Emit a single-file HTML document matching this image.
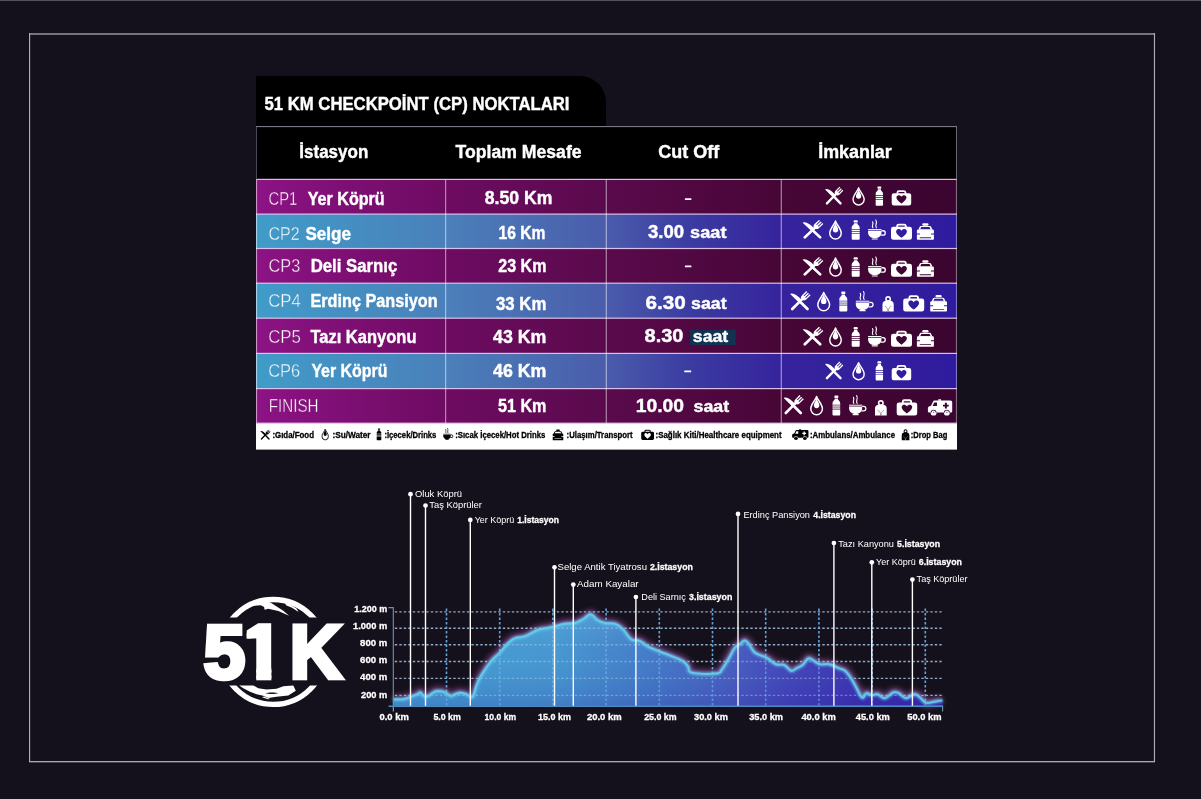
<!DOCTYPE html>
<html lang="tr"><head><meta charset="utf-8"><title>51 KM Checkpoint (CP) Noktaları</title>
<style>
html,body{margin:0;padding:0;background:#15111c;}
body{width:1201px;height:799px;overflow:hidden;font-family:"Liberation Sans", "DejaVu Sans", sans-serif;}
svg{display:block;font-family:"Liberation Sans", "DejaVu Sans", sans-serif;}
text{white-space:pre;}
</style></head><body>
<svg width="1201" height="799" viewBox="0 0 1201 799">
<defs>
<linearGradient id="gp" gradientUnits="userSpaceOnUse" x1="256" y1="0" x2="957" y2="0">
<stop offset="0" stop-color="#8c1384"/><stop offset="0.27" stop-color="#6e0b62"/><stop offset="0.5" stop-color="#5a0a4c"/><stop offset="0.75" stop-color="#470636"/><stop offset="1" stop-color="#3a0530"/>
</linearGradient>
<linearGradient id="gb" gradientUnits="userSpaceOnUse" x1="256" y1="0" x2="957" y2="0">
<stop offset="0" stop-color="#409cc8"/><stop offset="0.27" stop-color="#4a80ba"/><stop offset="0.5" stop-color="#4a5cab"/><stop offset="0.62" stop-color="#3b3ba2"/><stop offset="0.75" stop-color="#36239c"/><stop offset="1" stop-color="#2f1b9e"/>
</linearGradient>
<linearGradient id="ga" gradientUnits="userSpaceOnUse" x1="393" y1="0" x2="943" y2="0">
<stop offset="0" stop-color="#46a2d4"/><stop offset="0.3" stop-color="#4698d0"/><stop offset="0.48" stop-color="#4478c6"/><stop offset="0.6" stop-color="#4860c0"/><stop offset="0.72" stop-color="#4343b8"/><stop offset="0.85" stop-color="#3c2fb0"/><stop offset="1" stop-color="#3625a8"/>
</linearGradient>
<linearGradient id="gav" gradientUnits="userSpaceOnUse" x1="0" y1="612" x2="0" y2="706">
<stop offset="0" stop-color="#7ad8f4" stop-opacity="0.26"/><stop offset="0.5" stop-color="#5080d0" stop-opacity="0.05"/><stop offset="1" stop-color="#28209a" stop-opacity="0.22"/>
</linearGradient>
<filter id="glow" x="-5%" y="-20%" width="110%" height="140%"><feGaussianBlur stdDeviation="2.8"/></filter>
<filter id="glow2" x="-5%" y="-20%" width="110%" height="140%"><feGaussianBlur stdDeviation="1"/></filter>

</defs>
<rect x="0" y="0" width="1201" height="799" fill="#15111c"/>
<rect x="0" y="0" width="1201" height="1" fill="#56525e"/>
<rect x="29" y="33" width="1126" height="2" fill="#75717d"/>
<rect x="29" y="761" width="1126" height="1" fill="#a9a7b4"/><rect x="29" y="762" width="1126" height="1" fill="#494552"/>
<rect x="29" y="33" width="1.15" height="729" fill="#aeacb9"/>
<rect x="1153.9" y="33" width="1.15" height="729" fill="#aeacb9"/>
<path d="M256,76 H580 a26,26 0 0 1 26,26 V127 H256Z" fill="#000"/>
<text x="264.5" y="109.9" font-size="17.8" font-weight="bold" fill="#fff" text-anchor="start" textLength="305.0" lengthAdjust="spacingAndGlyphs" stroke="#fff" stroke-width="0.4">51 KM CHECKPOİNT (CP) NOKTALARI</text>
<rect x="256" y="126.5" width="701" height="53.4" fill="#000"/>
<rect x="256" y="179.4" width="701" height="35.0" fill="url(#gp)"/>
<rect x="256" y="214.1" width="701" height="34.7" fill="url(#gb)"/>
<rect x="256" y="248.5" width="701" height="35.0" fill="url(#gp)"/>
<rect x="256" y="283.2" width="701" height="35.3" fill="url(#gb)"/>
<rect x="256" y="318.2" width="701" height="35.5" fill="url(#gp)"/>
<rect x="256" y="353.4" width="701" height="35.5" fill="url(#gb)"/>
<rect x="256" y="388.6" width="701" height="34.9" fill="url(#gp)"/>
<rect x="256" y="423.2" width="701" height="26.4" fill="#fff"/>
<rect x="256" y="178.8" width="701" height="1.2" fill="#e6ccf2" fill-opacity="0.92"/>
<rect x="256" y="213.5" width="701" height="1.2" fill="#e6ccf2" fill-opacity="0.92"/>
<rect x="256" y="247.9" width="701" height="1.2" fill="#e6ccf2" fill-opacity="0.92"/>
<rect x="256" y="282.6" width="701" height="1.2" fill="#e6ccf2" fill-opacity="0.92"/>
<rect x="256" y="317.6" width="701" height="1.2" fill="#e6ccf2" fill-opacity="0.92"/>
<rect x="256" y="352.8" width="701" height="1.2" fill="#e6ccf2" fill-opacity="0.92"/>
<rect x="256" y="388.0" width="701" height="1.2" fill="#e6ccf2" fill-opacity="0.92"/>
<rect x="256" y="422.6" width="701" height="1.2" fill="#e6ccf2" fill-opacity="0.92"/>
<rect x="445.0" y="179.4" width="1.2" height="243.8" fill="#fff" fill-opacity="0.5"/>
<rect x="605.7" y="179.4" width="1.2" height="243.8" fill="#fff" fill-opacity="0.5"/>
<rect x="780.7" y="179.4" width="1.2" height="243.8" fill="#fff" fill-opacity="0.5"/>
<rect x="256" y="126.1" width="701" height="1" fill="#8a8692"/>
<rect x="256" y="127" width="1" height="52.4" fill="#4a4652"/>
<rect x="956" y="127" width="1" height="52.4" fill="#6a6672"/>
<rect x="256" y="179.4" width="1.1" height="243.8" fill="#fff" fill-opacity="0.55"/>
<rect x="955.9" y="179.4" width="1.1" height="243.8" fill="#fff" fill-opacity="0.4"/>
<text x="299.3" y="158.2" font-size="18" font-weight="bold" fill="#fff" text-anchor="start" textLength="69.0" lengthAdjust="spacingAndGlyphs" stroke="#fff" stroke-width="0.4">İstasyon</text>
<text x="455.6" y="158.2" font-size="18" font-weight="bold" fill="#fff" text-anchor="start" textLength="126.0" lengthAdjust="spacingAndGlyphs" stroke="#fff" stroke-width="0.4">Toplam Mesafe</text>
<text x="658.2" y="158.0" font-size="18" font-weight="bold" fill="#fff" text-anchor="start" textLength="61.0" lengthAdjust="spacingAndGlyphs" stroke="#fff" stroke-width="0.4">Cut Off</text>
<text x="818.2" y="158.0" font-size="18" font-weight="bold" fill="#fff" text-anchor="start" textLength="73.6" lengthAdjust="spacingAndGlyphs" stroke="#fff" stroke-width="0.4">İmkanlar</text>
<text x="268.5" y="205.3" font-size="18" font-weight="normal" fill="#fff" text-anchor="start" textLength="28.8" lengthAdjust="spacingAndGlyphs" stroke="url(#gp)" stroke-width="0.45">CP1</text>
<text x="307.7" y="205.3" font-size="18" font-weight="bold" fill="#fff" text-anchor="start" textLength="77.0" lengthAdjust="spacingAndGlyphs" stroke="#fff" stroke-width="0.4">Yer Köprü</text>
<text x="268.5" y="240.0" font-size="18" font-weight="normal" fill="#fff" text-anchor="start" textLength="31.2" lengthAdjust="spacingAndGlyphs" stroke="url(#gb)" stroke-width="0.45">CP2</text>
<text x="305.5" y="240.0" font-size="18" font-weight="bold" fill="#fff" text-anchor="start" textLength="45.5" lengthAdjust="spacingAndGlyphs" stroke="#fff" stroke-width="0.4">Selge</text>
<text x="268.5" y="271.8" font-size="18" font-weight="normal" fill="#fff" text-anchor="start" textLength="31.7" lengthAdjust="spacingAndGlyphs" stroke="url(#gp)" stroke-width="0.45">CP3</text>
<text x="310.7" y="271.8" font-size="18" font-weight="bold" fill="#fff" text-anchor="start" textLength="86.6" lengthAdjust="spacingAndGlyphs" stroke="#fff" stroke-width="0.4">Deli Sarnıç</text>
<text x="268.2" y="307.2" font-size="18" font-weight="normal" fill="#fff" text-anchor="start" textLength="32.6" lengthAdjust="spacingAndGlyphs" stroke="url(#gb)" stroke-width="0.45">CP4</text>
<text x="310.4" y="307.2" font-size="18" font-weight="bold" fill="#fff" text-anchor="start" textLength="127.2" lengthAdjust="spacingAndGlyphs" stroke="#fff" stroke-width="0.4">Erdinç Pansiyon</text>
<text x="268.2" y="342.7" font-size="18" font-weight="normal" fill="#fff" text-anchor="start" textLength="32.8" lengthAdjust="spacingAndGlyphs" stroke="url(#gp)" stroke-width="0.45">CP5</text>
<text x="310.4" y="342.7" font-size="18" font-weight="bold" fill="#fff" text-anchor="start" textLength="106.1" lengthAdjust="spacingAndGlyphs" stroke="#fff" stroke-width="0.4">Tazı Kanyonu</text>
<text x="268.2" y="377.0" font-size="18" font-weight="normal" fill="#fff" text-anchor="start" textLength="32.1" lengthAdjust="spacingAndGlyphs" stroke="url(#gb)" stroke-width="0.45">CP6</text>
<text x="311.4" y="377.0" font-size="18" font-weight="bold" fill="#fff" text-anchor="start" textLength="76.0" lengthAdjust="spacingAndGlyphs" stroke="#fff" stroke-width="0.4">Yer Köprü</text>
<text x="268.7" y="412.0" font-size="18" font-weight="normal" fill="#fff" text-anchor="start" textLength="49.8" lengthAdjust="spacingAndGlyphs" stroke="url(#gp)" stroke-width="0.45">FINISH</text>
<text x="484.8" y="204.4" font-size="18" font-weight="bold" fill="#fff" text-anchor="start" textLength="67.6" lengthAdjust="spacingAndGlyphs" stroke="#fff" stroke-width="0.4">8.50 Km</text>
<text x="498.6" y="239.3" font-size="18" font-weight="bold" fill="#fff" text-anchor="start" textLength="46.9" lengthAdjust="spacingAndGlyphs" stroke="#fff" stroke-width="0.4">16 Km</text>
<text x="498.3" y="271.7" font-size="18" font-weight="bold" fill="#fff" text-anchor="start" textLength="48.1" lengthAdjust="spacingAndGlyphs" stroke="#fff" stroke-width="0.4">23 Km</text>
<text x="496.0" y="309.5" font-size="18" font-weight="bold" fill="#fff" text-anchor="start" textLength="50.4" lengthAdjust="spacingAndGlyphs" stroke="#fff" stroke-width="0.4">33 Km</text>
<text x="493.0" y="342.8" font-size="18" font-weight="bold" fill="#fff" text-anchor="start" textLength="53.4" lengthAdjust="spacingAndGlyphs" stroke="#fff" stroke-width="0.4">43 Km</text>
<text x="493.0" y="377.0" font-size="18" font-weight="bold" fill="#fff" text-anchor="start" textLength="53.4" lengthAdjust="spacingAndGlyphs" stroke="#fff" stroke-width="0.4">46 Km</text>
<text x="498.0" y="411.6" font-size="18" font-weight="bold" fill="#fff" text-anchor="start" textLength="48.4" lengthAdjust="spacingAndGlyphs" stroke="#fff" stroke-width="0.4">51 Km</text>
<rect x="690" y="329.7" width="45.7" height="15.4" fill="#0f3350"/>
<rect x="684.9" y="198.3" width="6.5" height="1.8" rx="0.4" fill="#fff"/>
<rect x="684.9" y="265.5" width="6.5" height="1.8" rx="0.4" fill="#fff"/>
<rect x="684.2" y="370.5" width="7.0" height="1.8" rx="0.4" fill="#fff"/>
<text x="648.0" y="237.9" font-size="18" font-weight="bold" fill="#fff" text-anchor="start" textLength="36.1" lengthAdjust="spacingAndGlyphs" stroke="#fff" stroke-width="0.4">3.00</text>
<text x="690.1" y="237.9" font-size="17.2" font-weight="bold" fill="#fff" text-anchor="start" textLength="36.4" lengthAdjust="spacingAndGlyphs" stroke="#fff" stroke-width="0.4">saat</text>
<text x="645.4" y="308.8" font-size="18" font-weight="bold" fill="#fff" text-anchor="start" textLength="40.3" lengthAdjust="spacingAndGlyphs" stroke="#fff" stroke-width="0.4">6.30</text>
<text x="691.0" y="308.8" font-size="17.2" font-weight="bold" fill="#fff" text-anchor="start" textLength="35.6" lengthAdjust="spacingAndGlyphs" stroke="#fff" stroke-width="0.4">saat</text>
<text x="644.6" y="342.1" font-size="18" font-weight="bold" fill="#fff" text-anchor="start" textLength="38.9" lengthAdjust="spacingAndGlyphs" stroke="#fff" stroke-width="0.4">8.30</text>
<text x="692.8" y="342.1" font-size="17.2" font-weight="bold" fill="#fff" text-anchor="start" textLength="35.4" lengthAdjust="spacingAndGlyphs" stroke="#fff" stroke-width="0.4">saat</text>
<text x="635.8" y="411.6" font-size="18" font-weight="bold" fill="#fff" text-anchor="start" textLength="48.2" lengthAdjust="spacingAndGlyphs" stroke="#fff" stroke-width="0.4">10.00</text>
<text x="693.6" y="411.6" font-size="17.2" font-weight="bold" fill="#fff" text-anchor="start" textLength="35.6" lengthAdjust="spacingAndGlyphs" stroke="#fff" stroke-width="0.4">saat</text>
<svg x="824.7" y="187.3" width="18.0" height="18.4" viewBox="0 0 20 20" preserveAspectRatio="none" overflow="visible" fill="#fff"><g transform="rotate(-45 10 10)"> <path d="M8.7,-2.2 C11.8,-1.4 12.9,3.4 12.5,10 L11.4,10 L11.4,20.6 a1.35,1.35 0 0 1 -2.7,0 L8.7,-2.2Z"/> </g> <g transform="rotate(45 10 10)"> <path d="M7,-2 h1.35 v5.2 h0.95 v-5.2 h1.4 v5.2 h0.95 v-5.2 h1.35 V3.8 c0,2.1 -1.2,2.9 -1.8,3.2 L11.35,20.6 a1.35,1.35 0 0 1 -2.7,0 L8.65,7 C8.2,6.7 7,5.9 7,3.8Z"/> </g></svg>
<svg x="852.0" y="186.7" width="13.2" height="19.0" viewBox="0 0 14 20" preserveAspectRatio="none" overflow="visible" fill="#fff"><path d="M7,1.2 C6.2,4.4 1.1,9 1.1,13.3 a5.9,5.9 0 0 0 11.8,0 C12.9,9 7.8,4.4 7,1.2Z" fill="none" stroke="#fff" stroke-width="1.5" stroke-linejoin="round"/> <path d="M7,2.4 C6.6,5 4.2,7.7 4.2,9.9 a2.8,2.8 0 0 0 5.6,0 C9.8,7.7 7.4,5 7,2.4Z"/></svg>
<svg x="875.2" y="186.4" width="8.3" height="19.3" viewBox="0 0 9 20" preserveAspectRatio="none" overflow="visible" fill="#fff"><rect x="2.4" y="0" width="4.2" height="2.4" rx="0.9"/> <path d="M2.8,3 h3.4 v0.7 c0,1.1 2.3,1.6 2.3,3.8 V9.2 H0.5 V7.5 c0,-2.2 2.3,-2.7 2.3,-3.8Z"/> <rect x="0.5" y="9.9" width="8" height="1.3"/> <rect x="0.5" y="11.9" width="8" height="1.3"/> <path d="M0.5,13.9 h8 V19 a1,1 0 0 1 -1,1 h-6 a1,1 0 0 1 -1,-1Z"/></svg>
<svg x="891.7" y="190.1" width="19.5" height="15.4" viewBox="0 0 21 17" preserveAspectRatio="none" overflow="visible" fill="#fff"><path fill-rule="evenodd" d="M2.4,3.4 H18.6 a2.4,2.4 0 0 1 2.4,2.4 V14.6 a2.4,2.4 0 0 1 -2.4,2.4 H2.4 a2.4,2.4 0 0 1 -2.4,-2.4 V5.8 a2.4,2.4 0 0 1 2.4,-2.4Z M10.5,14.9 C5,11.1 4.6,8.4 5.5,6.9 c1,-1.7 3.7,-1.7 5,0.5 c1.3,-2.2 4,-2.2 5,-0.5 c0.9,1.5 0.5,4.2 -5,8Z"/> <path d="M6.2,4 V2.6 a1.5,1.5 0 0 1 1.5,-1.5 h5.6 a1.5,1.5 0 0 1 1.5,1.5 V4" fill="none" stroke="#fff" stroke-width="1.9"/></svg>
<svg x="802.2" y="220.5" width="20.5" height="19.3" viewBox="0 0 20 20" preserveAspectRatio="none" overflow="visible" fill="#fff"><g transform="rotate(-45 10 10)"> <path d="M8.7,-2.2 C11.8,-1.4 12.9,3.4 12.5,10 L11.4,10 L11.4,20.6 a1.35,1.35 0 0 1 -2.7,0 L8.7,-2.2Z"/> </g> <g transform="rotate(45 10 10)"> <path d="M7,-2 h1.35 v5.2 h0.95 v-5.2 h1.4 v5.2 h0.95 v-5.2 h1.35 V3.8 c0,2.1 -1.2,2.9 -1.8,3.2 L11.35,20.6 a1.35,1.35 0 0 1 -2.7,0 L8.65,7 C8.2,6.7 7,5.9 7,3.8Z"/> </g></svg>
<svg x="828.7" y="219.8" width="13.6" height="20.0" viewBox="0 0 14 20" preserveAspectRatio="none" overflow="visible" fill="#fff"><path d="M7,1.2 C6.2,4.4 1.1,9 1.1,13.3 a5.9,5.9 0 0 0 11.8,0 C12.9,9 7.8,4.4 7,1.2Z" fill="none" stroke="#fff" stroke-width="1.5" stroke-linejoin="round"/> <path d="M7,2.4 C6.6,5 4.2,7.7 4.2,9.9 a2.8,2.8 0 0 0 5.6,0 C9.8,7.7 7.4,5 7,2.4Z"/></svg>
<svg x="851.2" y="220.2" width="9.0" height="19.6" viewBox="0 0 9 20" preserveAspectRatio="none" overflow="visible" fill="#fff"><rect x="2.4" y="0" width="4.2" height="2.4" rx="0.9"/> <path d="M2.8,3 h3.4 v0.7 c0,1.1 2.3,1.6 2.3,3.8 V9.2 H0.5 V7.5 c0,-2.2 2.3,-2.7 2.3,-3.8Z"/> <rect x="0.5" y="9.9" width="8" height="1.3"/> <rect x="0.5" y="11.9" width="8" height="1.3"/> <path d="M0.5,13.9 h8 V19 a1,1 0 0 1 -1,1 h-6 a1,1 0 0 1 -1,-1Z"/></svg>
<svg x="867.7" y="219.0" width="18.7" height="20.8" viewBox="0 0 19 21" preserveAspectRatio="none" overflow="visible" fill="#fff"><path d="M0.4,10.2 H14 V11.2 H0.4Z"/> <path d="M0.4,11.9 H14 V13.4 c0,3.6 -2.6,6 -6.8,6 S0.4,17 0.4,13.4Z"/> <path d="M14,11.2 h1.6 a2.9,2.9 0 0 1 0,5.8 h-2.6 l0.5,-1.3 h2.1 a1.6,1.6 0 0 0 0,-3.2 h-1.6Z"/> <rect x="4" y="19.6" width="6.4" height="1.2" rx="0.5"/> <path d="M5.3,8.8 c-2,-2.2 1.4,-3.4 -0.4,-6 M8.8,8.8 c-2.2,-2.6 1.8,-4.6 -0.6,-7.8" fill="none" stroke="#fff" stroke-width="1.15" stroke-linecap="round"/></svg>
<svg x="891.0" y="223.6" width="21.0" height="16.2" viewBox="0 0 21 17" preserveAspectRatio="none" overflow="visible" fill="#fff"><path fill-rule="evenodd" d="M2.4,3.4 H18.6 a2.4,2.4 0 0 1 2.4,2.4 V14.6 a2.4,2.4 0 0 1 -2.4,2.4 H2.4 a2.4,2.4 0 0 1 -2.4,-2.4 V5.8 a2.4,2.4 0 0 1 2.4,-2.4Z M10.5,14.9 C5,11.1 4.6,8.4 5.5,6.9 c1,-1.7 3.7,-1.7 5,0.5 c1.3,-2.2 4,-2.2 5,-0.5 c0.9,1.5 0.5,4.2 -5,8Z"/> <path d="M6.2,4 V2.6 a1.5,1.5 0 0 1 1.5,-1.5 h5.6 a1.5,1.5 0 0 1 1.5,1.5 V4" fill="none" stroke="#fff" stroke-width="1.9"/></svg>
<svg x="916.7" y="223.2" width="17.4" height="16.6" viewBox="0 0 18 17" preserveAspectRatio="none" overflow="visible" fill="#fff"><rect x="5.8" y="0" width="6.4" height="2.5" rx="1.2"/> <path fill-rule="evenodd" d="M4.4,2.8 H13.6 c0.6,0 1,0.3 1.3,0.9 L16.3,6.8 H1.7 L3.1,3.7 c0.3,-0.6 0.7,-0.9 1.3,-0.9Z M4.7,4 L3.7,6.1 H14.3 L13.3,4Z"/> <path fill-rule="evenodd" d="M1.6,6.4 H16.4 a1.4,1.4 0 0 1 1.4,1.4 V16.2 a0.8,0.8 0 0 1 -0.8,0.8 H1 a0.8,0.8 0 0 1 -0.8,-0.8 V7.8 a1.4,1.4 0 0 1 1.4,-1.4Z M0.2,10.5 H3.3 V11.5 H0.2Z M14.7,10.5 H17.8 V11.5 H14.7Z M3.2,14.4 H14.8 V15.3 H3.2Z"/></svg>
<svg x="802.2" y="257.5" width="20.5" height="19.3" viewBox="0 0 20 20" preserveAspectRatio="none" overflow="visible" fill="#fff"><g transform="rotate(-45 10 10)"> <path d="M8.7,-2.2 C11.8,-1.4 12.9,3.4 12.5,10 L11.4,10 L11.4,20.6 a1.35,1.35 0 0 1 -2.7,0 L8.7,-2.2Z"/> </g> <g transform="rotate(45 10 10)"> <path d="M7,-2 h1.35 v5.2 h0.95 v-5.2 h1.4 v5.2 h0.95 v-5.2 h1.35 V3.8 c0,2.1 -1.2,2.9 -1.8,3.2 L11.35,20.6 a1.35,1.35 0 0 1 -2.7,0 L8.65,7 C8.2,6.7 7,5.9 7,3.8Z"/> </g></svg>
<svg x="828.7" y="256.8" width="13.6" height="20.0" viewBox="0 0 14 20" preserveAspectRatio="none" overflow="visible" fill="#fff"><path d="M7,1.2 C6.2,4.4 1.1,9 1.1,13.3 a5.9,5.9 0 0 0 11.8,0 C12.9,9 7.8,4.4 7,1.2Z" fill="none" stroke="#fff" stroke-width="1.5" stroke-linejoin="round"/> <path d="M7,2.4 C6.6,5 4.2,7.7 4.2,9.9 a2.8,2.8 0 0 0 5.6,0 C9.8,7.7 7.4,5 7,2.4Z"/></svg>
<svg x="851.2" y="257.2" width="9.0" height="19.6" viewBox="0 0 9 20" preserveAspectRatio="none" overflow="visible" fill="#fff"><rect x="2.4" y="0" width="4.2" height="2.4" rx="0.9"/> <path d="M2.8,3 h3.4 v0.7 c0,1.1 2.3,1.6 2.3,3.8 V9.2 H0.5 V7.5 c0,-2.2 2.3,-2.7 2.3,-3.8Z"/> <rect x="0.5" y="9.9" width="8" height="1.3"/> <rect x="0.5" y="11.9" width="8" height="1.3"/> <path d="M0.5,13.9 h8 V19 a1,1 0 0 1 -1,1 h-6 a1,1 0 0 1 -1,-1Z"/></svg>
<svg x="867.7" y="256.0" width="18.7" height="20.8" viewBox="0 0 19 21" preserveAspectRatio="none" overflow="visible" fill="#fff"><path d="M0.4,10.2 H14 V11.2 H0.4Z"/> <path d="M0.4,11.9 H14 V13.4 c0,3.6 -2.6,6 -6.8,6 S0.4,17 0.4,13.4Z"/> <path d="M14,11.2 h1.6 a2.9,2.9 0 0 1 0,5.8 h-2.6 l0.5,-1.3 h2.1 a1.6,1.6 0 0 0 0,-3.2 h-1.6Z"/> <rect x="4" y="19.6" width="6.4" height="1.2" rx="0.5"/> <path d="M5.3,8.8 c-2,-2.2 1.4,-3.4 -0.4,-6 M8.8,8.8 c-2.2,-2.6 1.8,-4.6 -0.6,-7.8" fill="none" stroke="#fff" stroke-width="1.15" stroke-linecap="round"/></svg>
<svg x="891.0" y="260.6" width="21.0" height="16.2" viewBox="0 0 21 17" preserveAspectRatio="none" overflow="visible" fill="#fff"><path fill-rule="evenodd" d="M2.4,3.4 H18.6 a2.4,2.4 0 0 1 2.4,2.4 V14.6 a2.4,2.4 0 0 1 -2.4,2.4 H2.4 a2.4,2.4 0 0 1 -2.4,-2.4 V5.8 a2.4,2.4 0 0 1 2.4,-2.4Z M10.5,14.9 C5,11.1 4.6,8.4 5.5,6.9 c1,-1.7 3.7,-1.7 5,0.5 c1.3,-2.2 4,-2.2 5,-0.5 c0.9,1.5 0.5,4.2 -5,8Z"/> <path d="M6.2,4 V2.6 a1.5,1.5 0 0 1 1.5,-1.5 h5.6 a1.5,1.5 0 0 1 1.5,1.5 V4" fill="none" stroke="#fff" stroke-width="1.9"/></svg>
<svg x="916.7" y="260.2" width="17.4" height="16.6" viewBox="0 0 18 17" preserveAspectRatio="none" overflow="visible" fill="#fff"><rect x="5.8" y="0" width="6.4" height="2.5" rx="1.2"/> <path fill-rule="evenodd" d="M4.4,2.8 H13.6 c0.6,0 1,0.3 1.3,0.9 L16.3,6.8 H1.7 L3.1,3.7 c0.3,-0.6 0.7,-0.9 1.3,-0.9Z M4.7,4 L3.7,6.1 H14.3 L13.3,4Z"/> <path fill-rule="evenodd" d="M1.6,6.4 H16.4 a1.4,1.4 0 0 1 1.4,1.4 V16.2 a0.8,0.8 0 0 1 -0.8,0.8 H1 a0.8,0.8 0 0 1 -0.8,-0.8 V7.8 a1.4,1.4 0 0 1 1.4,-1.4Z M0.2,10.5 H3.3 V11.5 H0.2Z M14.7,10.5 H17.8 V11.5 H14.7Z M3.2,14.4 H14.8 V15.3 H3.2Z"/></svg>
<svg x="789.7" y="291.7" width="20.3" height="19.8" viewBox="0 0 20 20" preserveAspectRatio="none" overflow="visible" fill="#fff"><g transform="rotate(-45 10 10)"> <path d="M8.7,-2.2 C11.8,-1.4 12.9,3.4 12.5,10 L11.4,10 L11.4,20.6 a1.35,1.35 0 0 1 -2.7,0 L8.7,-2.2Z"/> </g> <g transform="rotate(45 10 10)"> <path d="M7,-2 h1.35 v5.2 h0.95 v-5.2 h1.4 v5.2 h0.95 v-5.2 h1.35 V3.8 c0,2.1 -1.2,2.9 -1.8,3.2 L11.35,20.6 a1.35,1.35 0 0 1 -2.7,0 L8.65,7 C8.2,6.7 7,5.9 7,3.8Z"/> </g></svg>
<svg x="816.7" y="291.2" width="14.0" height="20.3" viewBox="0 0 14 20" preserveAspectRatio="none" overflow="visible" fill="#fff"><path d="M7,1.2 C6.2,4.4 1.1,9 1.1,13.3 a5.9,5.9 0 0 0 11.8,0 C12.9,9 7.8,4.4 7,1.2Z" fill="none" stroke="#fff" stroke-width="1.5" stroke-linejoin="round"/> <path d="M7,2.4 C6.6,5 4.2,7.7 4.2,9.9 a2.8,2.8 0 0 0 5.6,0 C9.8,7.7 7.4,5 7,2.4Z"/></svg>
<svg x="838.8" y="291.5" width="9.0" height="20.0" viewBox="0 0 9 20" preserveAspectRatio="none" overflow="visible" fill="#fff"><rect x="2.4" y="0" width="4.2" height="2.4" rx="0.9"/> <path d="M2.8,3 h3.4 v0.7 c0,1.1 2.3,1.6 2.3,3.8 V9.2 H0.5 V7.5 c0,-2.2 2.3,-2.7 2.3,-3.8Z"/> <rect x="0.5" y="9.9" width="8" height="1.3"/> <rect x="0.5" y="11.9" width="8" height="1.3"/> <path d="M0.5,13.9 h8 V19 a1,1 0 0 1 -1,1 h-6 a1,1 0 0 1 -1,-1Z"/></svg>
<svg x="855.4" y="290.5" width="18.8" height="21.0" viewBox="0 0 19 21" preserveAspectRatio="none" overflow="visible" fill="#fff"><path d="M0.4,10.2 H14 V11.2 H0.4Z"/> <path d="M0.4,11.9 H14 V13.4 c0,3.6 -2.6,6 -6.8,6 S0.4,17 0.4,13.4Z"/> <path d="M14,11.2 h1.6 a2.9,2.9 0 0 1 0,5.8 h-2.6 l0.5,-1.3 h2.1 a1.6,1.6 0 0 0 0,-3.2 h-1.6Z"/> <rect x="4" y="19.6" width="6.4" height="1.2" rx="0.5"/> <path d="M5.3,8.8 c-2,-2.2 1.4,-3.4 -0.4,-6 M8.8,8.8 c-2.2,-2.6 1.8,-4.6 -0.6,-7.8" fill="none" stroke="#fff" stroke-width="1.15" stroke-linecap="round"/></svg>
<svg x="882.0" y="296.2" width="12.2" height="15.3" viewBox="0 0 13 16" preserveAspectRatio="none" overflow="visible" fill="#fff"><circle cx="6.5" cy="3" r="2.3" fill="none" stroke="#fff" stroke-width="1.6"/> <path d="M0.5,16 V9.2 C0.5,5.8 2.4,4.6 6.5,4.6 S12.5,5.8 12.5,9.2 V16Z"/> <path d="M6.5,16 C6.3,13 5,11.2 3,10.4 M6.5,16 C6.7,13 8,11.2 10,10.4" fill="none" style="stroke:#3a1040" stroke-opacity="0.5" stroke-width="0.8"/></svg>
<svg x="903.2" y="295.1" width="21.0" height="16.4" viewBox="0 0 21 17" preserveAspectRatio="none" overflow="visible" fill="#fff"><path fill-rule="evenodd" d="M2.4,3.4 H18.6 a2.4,2.4 0 0 1 2.4,2.4 V14.6 a2.4,2.4 0 0 1 -2.4,2.4 H2.4 a2.4,2.4 0 0 1 -2.4,-2.4 V5.8 a2.4,2.4 0 0 1 2.4,-2.4Z M10.5,14.9 C5,11.1 4.6,8.4 5.5,6.9 c1,-1.7 3.7,-1.7 5,0.5 c1.3,-2.2 4,-2.2 5,-0.5 c0.9,1.5 0.5,4.2 -5,8Z"/> <path d="M6.2,4 V2.6 a1.5,1.5 0 0 1 1.5,-1.5 h5.6 a1.5,1.5 0 0 1 1.5,1.5 V4" fill="none" stroke="#fff" stroke-width="1.9"/></svg>
<svg x="930.0" y="294.9" width="17.2" height="16.6" viewBox="0 0 18 17" preserveAspectRatio="none" overflow="visible" fill="#fff"><rect x="5.8" y="0" width="6.4" height="2.5" rx="1.2"/> <path fill-rule="evenodd" d="M4.4,2.8 H13.6 c0.6,0 1,0.3 1.3,0.9 L16.3,6.8 H1.7 L3.1,3.7 c0.3,-0.6 0.7,-0.9 1.3,-0.9Z M4.7,4 L3.7,6.1 H14.3 L13.3,4Z"/> <path fill-rule="evenodd" d="M1.6,6.4 H16.4 a1.4,1.4 0 0 1 1.4,1.4 V16.2 a0.8,0.8 0 0 1 -0.8,0.8 H1 a0.8,0.8 0 0 1 -0.8,-0.8 V7.8 a1.4,1.4 0 0 1 1.4,-1.4Z M0.2,10.5 H3.3 V11.5 H0.2Z M14.7,10.5 H17.8 V11.5 H14.7Z M3.2,14.4 H14.8 V15.3 H3.2Z"/></svg>
<svg x="802.2" y="327.4" width="20.5" height="19.3" viewBox="0 0 20 20" preserveAspectRatio="none" overflow="visible" fill="#fff"><g transform="rotate(-45 10 10)"> <path d="M8.7,-2.2 C11.8,-1.4 12.9,3.4 12.5,10 L11.4,10 L11.4,20.6 a1.35,1.35 0 0 1 -2.7,0 L8.7,-2.2Z"/> </g> <g transform="rotate(45 10 10)"> <path d="M7,-2 h1.35 v5.2 h0.95 v-5.2 h1.4 v5.2 h0.95 v-5.2 h1.35 V3.8 c0,2.1 -1.2,2.9 -1.8,3.2 L11.35,20.6 a1.35,1.35 0 0 1 -2.7,0 L8.65,7 C8.2,6.7 7,5.9 7,3.8Z"/> </g></svg>
<svg x="828.7" y="326.7" width="13.6" height="20.0" viewBox="0 0 14 20" preserveAspectRatio="none" overflow="visible" fill="#fff"><path d="M7,1.2 C6.2,4.4 1.1,9 1.1,13.3 a5.9,5.9 0 0 0 11.8,0 C12.9,9 7.8,4.4 7,1.2Z" fill="none" stroke="#fff" stroke-width="1.5" stroke-linejoin="round"/> <path d="M7,2.4 C6.6,5 4.2,7.7 4.2,9.9 a2.8,2.8 0 0 0 5.6,0 C9.8,7.7 7.4,5 7,2.4Z"/></svg>
<svg x="851.2" y="327.1" width="9.0" height="19.6" viewBox="0 0 9 20" preserveAspectRatio="none" overflow="visible" fill="#fff"><rect x="2.4" y="0" width="4.2" height="2.4" rx="0.9"/> <path d="M2.8,3 h3.4 v0.7 c0,1.1 2.3,1.6 2.3,3.8 V9.2 H0.5 V7.5 c0,-2.2 2.3,-2.7 2.3,-3.8Z"/> <rect x="0.5" y="9.9" width="8" height="1.3"/> <rect x="0.5" y="11.9" width="8" height="1.3"/> <path d="M0.5,13.9 h8 V19 a1,1 0 0 1 -1,1 h-6 a1,1 0 0 1 -1,-1Z"/></svg>
<svg x="867.7" y="325.9" width="18.7" height="20.8" viewBox="0 0 19 21" preserveAspectRatio="none" overflow="visible" fill="#fff"><path d="M0.4,10.2 H14 V11.2 H0.4Z"/> <path d="M0.4,11.9 H14 V13.4 c0,3.6 -2.6,6 -6.8,6 S0.4,17 0.4,13.4Z"/> <path d="M14,11.2 h1.6 a2.9,2.9 0 0 1 0,5.8 h-2.6 l0.5,-1.3 h2.1 a1.6,1.6 0 0 0 0,-3.2 h-1.6Z"/> <rect x="4" y="19.6" width="6.4" height="1.2" rx="0.5"/> <path d="M5.3,8.8 c-2,-2.2 1.4,-3.4 -0.4,-6 M8.8,8.8 c-2.2,-2.6 1.8,-4.6 -0.6,-7.8" fill="none" stroke="#fff" stroke-width="1.15" stroke-linecap="round"/></svg>
<svg x="891.0" y="330.5" width="21.0" height="16.2" viewBox="0 0 21 17" preserveAspectRatio="none" overflow="visible" fill="#fff"><path fill-rule="evenodd" d="M2.4,3.4 H18.6 a2.4,2.4 0 0 1 2.4,2.4 V14.6 a2.4,2.4 0 0 1 -2.4,2.4 H2.4 a2.4,2.4 0 0 1 -2.4,-2.4 V5.8 a2.4,2.4 0 0 1 2.4,-2.4Z M10.5,14.9 C5,11.1 4.6,8.4 5.5,6.9 c1,-1.7 3.7,-1.7 5,0.5 c1.3,-2.2 4,-2.2 5,-0.5 c0.9,1.5 0.5,4.2 -5,8Z"/> <path d="M6.2,4 V2.6 a1.5,1.5 0 0 1 1.5,-1.5 h5.6 a1.5,1.5 0 0 1 1.5,1.5 V4" fill="none" stroke="#fff" stroke-width="1.9"/></svg>
<svg x="916.7" y="330.1" width="17.4" height="16.6" viewBox="0 0 18 17" preserveAspectRatio="none" overflow="visible" fill="#fff"><rect x="5.8" y="0" width="6.4" height="2.5" rx="1.2"/> <path fill-rule="evenodd" d="M4.4,2.8 H13.6 c0.6,0 1,0.3 1.3,0.9 L16.3,6.8 H1.7 L3.1,3.7 c0.3,-0.6 0.7,-0.9 1.3,-0.9Z M4.7,4 L3.7,6.1 H14.3 L13.3,4Z"/> <path fill-rule="evenodd" d="M1.6,6.4 H16.4 a1.4,1.4 0 0 1 1.4,1.4 V16.2 a0.8,0.8 0 0 1 -0.8,0.8 H1 a0.8,0.8 0 0 1 -0.8,-0.8 V7.8 a1.4,1.4 0 0 1 1.4,-1.4Z M0.2,10.5 H3.3 V11.5 H0.2Z M14.7,10.5 H17.8 V11.5 H14.7Z M3.2,14.4 H14.8 V15.3 H3.2Z"/></svg>
<svg x="824.7" y="362.1" width="18.0" height="18.4" viewBox="0 0 20 20" preserveAspectRatio="none" overflow="visible" fill="#fff"><g transform="rotate(-45 10 10)"> <path d="M8.7,-2.2 C11.8,-1.4 12.9,3.4 12.5,10 L11.4,10 L11.4,20.6 a1.35,1.35 0 0 1 -2.7,0 L8.7,-2.2Z"/> </g> <g transform="rotate(45 10 10)"> <path d="M7,-2 h1.35 v5.2 h0.95 v-5.2 h1.4 v5.2 h0.95 v-5.2 h1.35 V3.8 c0,2.1 -1.2,2.9 -1.8,3.2 L11.35,20.6 a1.35,1.35 0 0 1 -2.7,0 L8.65,7 C8.2,6.7 7,5.9 7,3.8Z"/> </g></svg>
<svg x="852.0" y="361.5" width="13.2" height="19.0" viewBox="0 0 14 20" preserveAspectRatio="none" overflow="visible" fill="#fff"><path d="M7,1.2 C6.2,4.4 1.1,9 1.1,13.3 a5.9,5.9 0 0 0 11.8,0 C12.9,9 7.8,4.4 7,1.2Z" fill="none" stroke="#fff" stroke-width="1.5" stroke-linejoin="round"/> <path d="M7,2.4 C6.6,5 4.2,7.7 4.2,9.9 a2.8,2.8 0 0 0 5.6,0 C9.8,7.7 7.4,5 7,2.4Z"/></svg>
<svg x="875.2" y="361.2" width="8.3" height="19.3" viewBox="0 0 9 20" preserveAspectRatio="none" overflow="visible" fill="#fff"><rect x="2.4" y="0" width="4.2" height="2.4" rx="0.9"/> <path d="M2.8,3 h3.4 v0.7 c0,1.1 2.3,1.6 2.3,3.8 V9.2 H0.5 V7.5 c0,-2.2 2.3,-2.7 2.3,-3.8Z"/> <rect x="0.5" y="9.9" width="8" height="1.3"/> <rect x="0.5" y="11.9" width="8" height="1.3"/> <path d="M0.5,13.9 h8 V19 a1,1 0 0 1 -1,1 h-6 a1,1 0 0 1 -1,-1Z"/></svg>
<svg x="891.7" y="364.9" width="19.5" height="15.4" viewBox="0 0 21 17" preserveAspectRatio="none" overflow="visible" fill="#fff"><path fill-rule="evenodd" d="M2.4,3.4 H18.6 a2.4,2.4 0 0 1 2.4,2.4 V14.6 a2.4,2.4 0 0 1 -2.4,2.4 H2.4 a2.4,2.4 0 0 1 -2.4,-2.4 V5.8 a2.4,2.4 0 0 1 2.4,-2.4Z M10.5,14.9 C5,11.1 4.6,8.4 5.5,6.9 c1,-1.7 3.7,-1.7 5,0.5 c1.3,-2.2 4,-2.2 5,-0.5 c0.9,1.5 0.5,4.2 -5,8Z"/> <path d="M6.2,4 V2.6 a1.5,1.5 0 0 1 1.5,-1.5 h5.6 a1.5,1.5 0 0 1 1.5,1.5 V4" fill="none" stroke="#fff" stroke-width="1.9"/></svg>
<svg x="783.3" y="395.7" width="19.9" height="19.8" viewBox="0 0 20 20" preserveAspectRatio="none" overflow="visible" fill="#fff"><g transform="rotate(-45 10 10)"> <path d="M8.7,-2.2 C11.8,-1.4 12.9,3.4 12.5,10 L11.4,10 L11.4,20.6 a1.35,1.35 0 0 1 -2.7,0 L8.7,-2.2Z"/> </g> <g transform="rotate(45 10 10)"> <path d="M7,-2 h1.35 v5.2 h0.95 v-5.2 h1.4 v5.2 h0.95 v-5.2 h1.35 V3.8 c0,2.1 -1.2,2.9 -1.8,3.2 L11.35,20.6 a1.35,1.35 0 0 1 -2.7,0 L8.65,7 C8.2,6.7 7,5.9 7,3.8Z"/> </g></svg>
<svg x="809.7" y="395.3" width="13.8" height="20.2" viewBox="0 0 14 20" preserveAspectRatio="none" overflow="visible" fill="#fff"><path d="M7,1.2 C6.2,4.4 1.1,9 1.1,13.3 a5.9,5.9 0 0 0 11.8,0 C12.9,9 7.8,4.4 7,1.2Z" fill="none" stroke="#fff" stroke-width="1.5" stroke-linejoin="round"/> <path d="M7,2.4 C6.6,5 4.2,7.7 4.2,9.9 a2.8,2.8 0 0 0 5.6,0 C9.8,7.7 7.4,5 7,2.4Z"/></svg>
<svg x="832.0" y="395.5" width="8.7" height="20.0" viewBox="0 0 9 20" preserveAspectRatio="none" overflow="visible" fill="#fff"><rect x="2.4" y="0" width="4.2" height="2.4" rx="0.9"/> <path d="M2.8,3 h3.4 v0.7 c0,1.1 2.3,1.6 2.3,3.8 V9.2 H0.5 V7.5 c0,-2.2 2.3,-2.7 2.3,-3.8Z"/> <rect x="0.5" y="9.9" width="8" height="1.3"/> <rect x="0.5" y="11.9" width="8" height="1.3"/> <path d="M0.5,13.9 h8 V19 a1,1 0 0 1 -1,1 h-6 a1,1 0 0 1 -1,-1Z"/></svg>
<svg x="848.7" y="394.5" width="18.3" height="21.0" viewBox="0 0 19 21" preserveAspectRatio="none" overflow="visible" fill="#fff"><path d="M0.4,10.2 H14 V11.2 H0.4Z"/> <path d="M0.4,11.9 H14 V13.4 c0,3.6 -2.6,6 -6.8,6 S0.4,17 0.4,13.4Z"/> <path d="M14,11.2 h1.6 a2.9,2.9 0 0 1 0,5.8 h-2.6 l0.5,-1.3 h2.1 a1.6,1.6 0 0 0 0,-3.2 h-1.6Z"/> <rect x="4" y="19.6" width="6.4" height="1.2" rx="0.5"/> <path d="M5.3,8.8 c-2,-2.2 1.4,-3.4 -0.4,-6 M8.8,8.8 c-2.2,-2.6 1.8,-4.6 -0.6,-7.8" fill="none" stroke="#fff" stroke-width="1.15" stroke-linecap="round"/></svg>
<svg x="874.5" y="400.2" width="12.7" height="15.3" viewBox="0 0 13 16" preserveAspectRatio="none" overflow="visible" fill="#fff"><circle cx="6.5" cy="3" r="2.3" fill="none" stroke="#fff" stroke-width="1.6"/> <path d="M0.5,16 V9.2 C0.5,5.8 2.4,4.6 6.5,4.6 S12.5,5.8 12.5,9.2 V16Z"/> <path d="M6.5,16 C6.3,13 5,11.2 3,10.4 M6.5,16 C6.7,13 8,11.2 10,10.4" fill="none" style="stroke:#3a1040" stroke-opacity="0.5" stroke-width="0.8"/></svg>
<svg x="896.7" y="399.2" width="20.5" height="16.3" viewBox="0 0 21 17" preserveAspectRatio="none" overflow="visible" fill="#fff"><path fill-rule="evenodd" d="M2.4,3.4 H18.6 a2.4,2.4 0 0 1 2.4,2.4 V14.6 a2.4,2.4 0 0 1 -2.4,2.4 H2.4 a2.4,2.4 0 0 1 -2.4,-2.4 V5.8 a2.4,2.4 0 0 1 2.4,-2.4Z M10.5,14.9 C5,11.1 4.6,8.4 5.5,6.9 c1,-1.7 3.7,-1.7 5,0.5 c1.3,-2.2 4,-2.2 5,-0.5 c0.9,1.5 0.5,4.2 -5,8Z"/> <path d="M6.2,4 V2.6 a1.5,1.5 0 0 1 1.5,-1.5 h5.6 a1.5,1.5 0 0 1 1.5,1.5 V4" fill="none" stroke="#fff" stroke-width="1.9"/></svg>
<svg x="927.7" y="400.2" width="24.7" height="15.8" viewBox="0 0 25 16" preserveAspectRatio="none" overflow="visible" fill="#fff"><rect x="10.6" y="-0.9" width="3" height="1.4" rx="0.4"/> <path fill-rule="evenodd" d="M7,0.4 H23 a1.8,1.8 0 0 1 1.8,1.8 V11.2 a1.2,1.2 0 0 1 -1.2,1.2 H1.4 a1.2,1.2 0 0 1 -1.2,-1.2 V8.4 c0,-1.2 0.7,-2 1.7,-2.3 L3.4,5.6 L5.3,1.5 C5.6,0.8 6.2,0.4 7,0.4Z M6.6,2.4 L5,5.9 H9.4 V2.4Z M17.4,2.6 h2 v1.9 h1.9 v2 h-1.9 v1.9 h-2 v-1.9 h-1.9 v-2 h1.9Z M6,9.6 a3,3 0 0 0 0,6 a3,3 0 0 0 0,-6Z M19.4,9.6 a3,3 0 0 0 0,6 a3,3 0 0 0 0,-6Z"/> <path fill-rule="evenodd" d="M6,10.5 a2.1,2.1 0 0 1 0,4.2 a2.1,2.1 0 0 1 0,-4.2Z M6,11.8 a0.8,0.8 0 0 0 0,1.6 a0.8,0.8 0 0 0 0,-1.6Z"/> <path fill-rule="evenodd" d="M19.4,10.5 a2.1,2.1 0 0 1 0,4.2 a2.1,2.1 0 0 1 0,-4.2Z M19.4,11.8 a0.8,0.8 0 0 0 0,1.6 a0.8,0.8 0 0 0 0,-1.6Z"/></svg>
<svg x="260.2" y="430.0" width="10.0" height="10.2" viewBox="0 0 20 20" preserveAspectRatio="none" overflow="visible" fill="#000"><g transform="rotate(-45 10 10)"> <path d="M8.7,-2.2 C11.8,-1.4 12.9,3.4 12.5,10 L11.4,10 L11.4,20.6 a1.35,1.35 0 0 1 -2.7,0 L8.7,-2.2Z"/> </g> <g transform="rotate(45 10 10)"> <path d="M7,-2 h1.35 v5.2 h0.95 v-5.2 h1.4 v5.2 h0.95 v-5.2 h1.35 V3.8 c0,2.1 -1.2,2.9 -1.8,3.2 L11.35,20.6 a1.35,1.35 0 0 1 -2.7,0 L8.65,7 C8.2,6.7 7,5.9 7,3.8Z"/> </g></svg>
<text x="272.4" y="438.2" font-size="8.2" font-weight="bold" fill="#000" text-anchor="start" textLength="41.6" lengthAdjust="spacingAndGlyphs" stroke="#000" stroke-width="0.28">:Gıda/Food</text>
<svg x="321.4" y="428.4" width="7.6" height="12.0" viewBox="0 0 14 20" preserveAspectRatio="none" overflow="visible" fill="#000"><path d="M7,1.2 C6.2,4.4 1.1,9 1.1,13.3 a5.9,5.9 0 0 0 11.8,0 C12.9,9 7.8,4.4 7,1.2Z" fill="none" stroke="#000" stroke-width="1.5" stroke-linejoin="round"/> <path d="M7,2.4 C6.6,5 4.2,7.7 4.2,9.9 a2.8,2.8 0 0 0 5.6,0 C9.8,7.7 7.4,5 7,2.4Z"/></svg>
<text x="332.4" y="438.2" font-size="8.2" font-weight="bold" fill="#000" text-anchor="start" textLength="38.2" lengthAdjust="spacingAndGlyphs" stroke="#000" stroke-width="0.28">:Su/Water</text>
<svg x="376.4" y="428.4" width="5.2" height="11.8" viewBox="0 0 9 20" preserveAspectRatio="none" overflow="visible" fill="#000"><rect x="2.4" y="0" width="4.2" height="2.4" rx="0.9"/> <path d="M2.8,3 h3.4 v0.7 c0,1.1 2.3,1.6 2.3,3.8 V9.2 H0.5 V7.5 c0,-2.2 2.3,-2.7 2.3,-3.8Z"/> <rect x="0.5" y="9.9" width="8" height="1.3"/> <rect x="0.5" y="11.9" width="8" height="1.3"/> <path d="M0.5,13.9 h8 V19 a1,1 0 0 1 -1,1 h-6 a1,1 0 0 1 -1,-1Z"/></svg>
<text x="384.4" y="438.2" font-size="8.2" font-weight="bold" fill="#000" text-anchor="start" textLength="52.0" lengthAdjust="spacingAndGlyphs" stroke="#000" stroke-width="0.28">:İçecek/Drinks</text>
<svg x="443.0" y="427.8" width="10.6" height="12.4" viewBox="0 0 19 21" preserveAspectRatio="none" overflow="visible" fill="#000"><path d="M0.4,10.2 H14 V11.2 H0.4Z"/> <path d="M0.4,11.9 H14 V13.4 c0,3.6 -2.6,6 -6.8,6 S0.4,17 0.4,13.4Z"/> <path d="M14,11.2 h1.6 a2.9,2.9 0 0 1 0,5.8 h-2.6 l0.5,-1.3 h2.1 a1.6,1.6 0 0 0 0,-3.2 h-1.6Z"/> <rect x="4" y="19.6" width="6.4" height="1.2" rx="0.5"/> <path d="M5.3,8.8 c-2,-2.2 1.4,-3.4 -0.4,-6 M8.8,8.8 c-2.2,-2.6 1.8,-4.6 -0.6,-7.8" fill="none" stroke="#000" stroke-width="1.15" stroke-linecap="round"/></svg>
<text x="455.2" y="438.2" font-size="8.2" font-weight="bold" fill="#000" text-anchor="start" textLength="90.2" lengthAdjust="spacingAndGlyphs" stroke="#000" stroke-width="0.28">:Sıcak İçecek/Hot Drinks</text>
<svg x="552.6" y="429.4" width="10.8" height="10.8" viewBox="0 0 18 17" preserveAspectRatio="none" overflow="visible" fill="#000"><rect x="5.8" y="0" width="6.4" height="2.5" rx="1.2"/> <path fill-rule="evenodd" d="M4.4,2.8 H13.6 c0.6,0 1,0.3 1.3,0.9 L16.3,6.8 H1.7 L3.1,3.7 c0.3,-0.6 0.7,-0.9 1.3,-0.9Z M4.7,4 L3.7,6.1 H14.3 L13.3,4Z"/> <path fill-rule="evenodd" d="M1.6,6.4 H16.4 a1.4,1.4 0 0 1 1.4,1.4 V16.2 a0.8,0.8 0 0 1 -0.8,0.8 H1 a0.8,0.8 0 0 1 -0.8,-0.8 V7.8 a1.4,1.4 0 0 1 1.4,-1.4Z M0.2,10.5 H3.3 V11.5 H0.2Z M14.7,10.5 H17.8 V11.5 H14.7Z M3.2,14.4 H14.8 V15.3 H3.2Z"/></svg>
<text x="566.6" y="438.2" font-size="8.2" font-weight="bold" fill="#000" text-anchor="start" textLength="66.0" lengthAdjust="spacingAndGlyphs" stroke="#000" stroke-width="0.28">:Ulaşım/Transport</text>
<svg x="641.2" y="429.6" width="12.8" height="10.4" viewBox="0 0 21 17" preserveAspectRatio="none" overflow="visible" fill="#000"><path fill-rule="evenodd" d="M2.4,3.4 H18.6 a2.4,2.4 0 0 1 2.4,2.4 V14.6 a2.4,2.4 0 0 1 -2.4,2.4 H2.4 a2.4,2.4 0 0 1 -2.4,-2.4 V5.8 a2.4,2.4 0 0 1 2.4,-2.4Z M10.5,14.9 C5,11.1 4.6,8.4 5.5,6.9 c1,-1.7 3.7,-1.7 5,0.5 c1.3,-2.2 4,-2.2 5,-0.5 c0.9,1.5 0.5,4.2 -5,8Z"/> <path d="M6.2,4 V2.6 a1.5,1.5 0 0 1 1.5,-1.5 h5.6 a1.5,1.5 0 0 1 1.5,1.5 V4" fill="none" stroke="#000" stroke-width="1.9"/></svg>
<text x="655.5" y="438.2" font-size="8.2" font-weight="bold" fill="#000" text-anchor="start" textLength="126.1" lengthAdjust="spacingAndGlyphs" stroke="#000" stroke-width="0.28">:Sağlık Kiti/Healthcare equipment</text>
<svg x="792.0" y="429.8" width="16.6" height="10.4" viewBox="0 0 25 16" preserveAspectRatio="none" overflow="visible" fill="#000"><rect x="10.6" y="-0.9" width="3" height="1.4" rx="0.4"/> <path fill-rule="evenodd" d="M7,0.4 H23 a1.8,1.8 0 0 1 1.8,1.8 V11.2 a1.2,1.2 0 0 1 -1.2,1.2 H1.4 a1.2,1.2 0 0 1 -1.2,-1.2 V8.4 c0,-1.2 0.7,-2 1.7,-2.3 L3.4,5.6 L5.3,1.5 C5.6,0.8 6.2,0.4 7,0.4Z M6.6,2.4 L5,5.9 H9.4 V2.4Z M17.4,2.6 h2 v1.9 h1.9 v2 h-1.9 v1.9 h-2 v-1.9 h-1.9 v-2 h1.9Z M6,9.6 a3,3 0 0 0 0,6 a3,3 0 0 0 0,-6Z M19.4,9.6 a3,3 0 0 0 0,6 a3,3 0 0 0 0,-6Z"/> <path fill-rule="evenodd" d="M6,10.5 a2.1,2.1 0 0 1 0,4.2 a2.1,2.1 0 0 1 0,-4.2Z M6,11.8 a0.8,0.8 0 0 0 0,1.6 a0.8,0.8 0 0 0 0,-1.6Z"/> <path fill-rule="evenodd" d="M19.4,10.5 a2.1,2.1 0 0 1 0,4.2 a2.1,2.1 0 0 1 0,-4.2Z M19.4,11.8 a0.8,0.8 0 0 0 0,1.6 a0.8,0.8 0 0 0 0,-1.6Z"/></svg>
<text x="810.0" y="438.2" font-size="8.2" font-weight="bold" fill="#000" text-anchor="start" textLength="85.0" lengthAdjust="spacingAndGlyphs" stroke="#000" stroke-width="0.28">:Ambulans/Ambulance</text>
<svg x="901.4" y="429.2" width="8.3" height="11.0" viewBox="0 0 13 16" preserveAspectRatio="none" overflow="visible" fill="#000"><circle cx="6.5" cy="3" r="2.3" fill="none" stroke="#000" stroke-width="1.6"/> <path d="M0.5,16 V9.2 C0.5,5.8 2.4,4.6 6.5,4.6 S12.5,5.8 12.5,9.2 V16Z"/> <path d="M6.5,16 C6.3,13 5,11.2 3,10.4 M6.5,16 C6.7,13 8,11.2 10,10.4" fill="none" style="stroke:#fff" stroke-opacity="0.5" stroke-width="0.8"/></svg>
<text x="910.8" y="438.2" font-size="8.2" font-weight="bold" fill="#000" text-anchor="start" textLength="36.5" lengthAdjust="spacingAndGlyphs" stroke="#000" stroke-width="0.28">:Drop Bag</text>
<path d="M393.5,699.2 C395.3,699.2 399.8,699.5 402.5,699.3 C405.2,699.1 405.0,698.8 407.0,698.2 C409.0,697.6 410.5,697.0 412.5,696.2 C414.5,695.4 415.4,695.0 417.0,694.2 C418.6,693.4 419.2,692.0 420.5,692.4 C421.8,692.8 422.3,695.2 423.7,696.0 C425.1,696.8 425.8,696.9 427.5,696.4 C429.2,695.9 430.3,694.4 432.0,693.4 C433.7,692.4 434.1,691.6 436.2,691.2 C438.3,690.8 440.3,690.9 442.5,691.4 C444.7,691.9 445.3,692.7 447.0,693.6 C448.7,694.5 449.5,695.8 451.2,695.9 C452.9,696.0 453.7,694.6 455.5,694.0 C457.3,693.4 458.1,692.9 460.0,692.8 C461.9,692.7 463.0,693.0 465.0,693.7 C467.0,694.4 468.4,695.7 470.0,696.2 C471.6,696.7 471.8,698.4 473.0,696.4 C474.2,694.4 474.8,690.0 476.2,686.2 C477.6,682.4 478.2,680.8 480.0,677.5 C481.8,674.2 483.0,672.5 485.0,669.5 C487.0,666.5 488.0,665.0 490.0,662.5 C492.0,660.0 493.0,659.0 495.0,657.0 C497.0,655.0 497.5,655.2 500.0,652.5 C502.5,649.8 504.5,646.6 507.5,643.7 C510.5,640.8 511.5,639.7 515.0,638.2 C518.5,636.7 520.5,637.8 525.0,636.2 C529.5,634.6 533.0,631.6 537.5,630.0 C542.0,628.4 544.0,628.8 547.5,628.0 C551.0,627.2 551.5,627.1 555.0,626.2 C558.5,625.3 561.0,624.3 565.0,623.7 C569.0,623.1 571.3,624.0 575.0,623.0 C578.7,622.0 580.6,620.5 583.7,618.7 C586.8,616.9 587.9,613.9 590.7,614.2 C593.5,614.5 594.6,618.2 597.5,620.0 C600.4,621.8 601.5,622.3 605.0,623.0 C608.5,623.7 611.5,622.6 615.0,623.7 C618.5,624.8 619.8,626.2 622.5,628.7 C625.2,631.2 626.5,634.1 628.5,636.4 C630.5,638.7 630.2,639.1 632.5,640.0 C634.8,640.9 636.6,639.5 639.8,640.8 C643.0,642.1 643.2,644.0 648.3,646.6 C653.4,649.2 658.5,650.9 665.3,653.7 C672.1,656.5 677.8,658.3 682.3,660.8 C686.8,663.3 686.0,664.0 688.0,666.4 C690.0,668.8 686.5,671.3 692.2,672.7 C697.9,674.1 710.4,674.2 716.3,673.5 C722.2,672.8 719.4,672.4 721.9,669.3 C724.4,666.2 726.4,662.3 729.0,658.0 C731.6,653.7 732.4,650.8 734.7,648.0 C737.0,645.2 738.3,645.3 740.3,643.8 C742.3,642.3 742.9,640.4 744.6,640.4 C746.3,640.4 746.8,641.4 748.8,643.8 C750.8,646.2 751.9,649.9 754.5,652.3 C757.1,654.7 759.1,654.6 761.6,655.7 C764.1,656.8 764.4,656.3 767.2,658.0 C770.0,659.7 772.3,662.8 775.7,664.2 C779.1,665.6 781.1,663.7 784.2,665.0 C787.3,666.3 788.7,670.1 791.3,670.7 C793.9,671.3 794.7,669.0 797.0,667.9 C799.3,666.8 800.3,666.9 802.6,665.0 C804.9,663.1 806.0,659.3 808.3,658.5 C810.6,657.7 811.6,659.7 813.9,660.8 C816.2,661.9 816.5,663.5 819.6,664.2 C822.7,664.9 825.8,663.5 829.5,664.2 C833.2,664.9 834.9,666.6 838.0,667.9 C841.1,669.2 842.6,668.7 845.1,670.7 C847.6,672.7 848.4,674.4 850.7,677.8 C853.0,681.2 854.1,683.7 856.4,687.7 C858.7,691.7 860.1,696.5 862.1,697.6 C864.1,698.7 864.3,693.8 866.3,693.3 C868.3,692.8 869.7,695.1 872.0,695.3 C874.3,695.5 875.1,693.6 877.6,694.2 C880.1,694.8 881.6,698.5 884.7,698.2 C887.8,697.9 890.4,693.5 893.2,692.5 C896.0,691.5 896.3,692.2 898.9,693.3 C901.5,694.4 902.9,698.0 906.0,698.2 C909.1,698.4 911.6,694.3 914.4,694.2 C917.2,694.1 917.8,695.9 920.1,697.6 C922.4,699.3 923.0,701.9 925.8,702.7 C928.6,703.5 931.0,702.3 934.3,701.8 C937.6,701.3 940.8,700.7 942.4,700.4" fill="none" stroke="#90489a" stroke-opacity="0.7" stroke-width="9" filter="url(#glow)"/>
<line x1="394.8" y1="611.9" x2="942.4" y2="611.9" stroke="#9ab6d2" stroke-opacity="0.92" stroke-width="1.4" stroke-dasharray="2.4 2.1"/>
<line x1="394.8" y1="628.3" x2="942.4" y2="628.3" stroke="#9ab6d2" stroke-opacity="0.92" stroke-width="1.4" stroke-dasharray="2.4 2.1"/>
<line x1="394.8" y1="644.8" x2="942.4" y2="644.8" stroke="#9ab6d2" stroke-opacity="0.92" stroke-width="1.4" stroke-dasharray="2.4 2.1"/>
<line x1="394.8" y1="661.5" x2="942.4" y2="661.5" stroke="#9ab6d2" stroke-opacity="0.92" stroke-width="1.4" stroke-dasharray="2.4 2.1"/>
<line x1="394.8" y1="678.4" x2="942.4" y2="678.4" stroke="#9ab6d2" stroke-opacity="0.92" stroke-width="1.4" stroke-dasharray="2.4 2.1"/>
<line x1="394.8" y1="695.4" x2="942.4" y2="695.4" stroke="#9ab6d2" stroke-opacity="0.92" stroke-width="1.4" stroke-dasharray="2.4 2.1"/>
<line x1="446.5" y1="608.6" x2="446.5" y2="705.8" stroke="#66aae4" stroke-opacity="0.95" stroke-width="1.6" stroke-dasharray="2.4 2.1"/>
<line x1="499.7" y1="608.6" x2="499.7" y2="705.8" stroke="#66aae4" stroke-opacity="0.95" stroke-width="1.6" stroke-dasharray="2.4 2.1"/>
<line x1="552.9" y1="608.6" x2="552.9" y2="705.8" stroke="#66aae4" stroke-opacity="0.95" stroke-width="1.6" stroke-dasharray="2.4 2.1"/>
<line x1="606.1" y1="608.6" x2="606.1" y2="705.8" stroke="#66aae4" stroke-opacity="0.95" stroke-width="1.6" stroke-dasharray="2.4 2.1"/>
<line x1="659.3" y1="608.6" x2="659.3" y2="705.8" stroke="#66aae4" stroke-opacity="0.95" stroke-width="1.6" stroke-dasharray="2.4 2.1"/>
<line x1="712.5" y1="608.6" x2="712.5" y2="705.8" stroke="#66aae4" stroke-opacity="0.95" stroke-width="1.6" stroke-dasharray="2.4 2.1"/>
<line x1="765.7" y1="608.6" x2="765.7" y2="705.8" stroke="#66aae4" stroke-opacity="0.95" stroke-width="1.6" stroke-dasharray="2.4 2.1"/>
<line x1="818.9" y1="608.6" x2="818.9" y2="705.8" stroke="#66aae4" stroke-opacity="0.95" stroke-width="1.6" stroke-dasharray="2.4 2.1"/>
<line x1="872.1" y1="608.6" x2="872.1" y2="705.8" stroke="#66aae4" stroke-opacity="0.95" stroke-width="1.6" stroke-dasharray="2.4 2.1"/>
<line x1="925.3" y1="608.6" x2="925.3" y2="705.8" stroke="#66aae4" stroke-opacity="0.95" stroke-width="1.6" stroke-dasharray="2.4 2.1"/>
<path d="M393.5,699.2 C395.3,699.2 399.8,699.5 402.5,699.3 C405.2,699.1 405.0,698.8 407.0,698.2 C409.0,697.6 410.5,697.0 412.5,696.2 C414.5,695.4 415.4,695.0 417.0,694.2 C418.6,693.4 419.2,692.0 420.5,692.4 C421.8,692.8 422.3,695.2 423.7,696.0 C425.1,696.8 425.8,696.9 427.5,696.4 C429.2,695.9 430.3,694.4 432.0,693.4 C433.7,692.4 434.1,691.6 436.2,691.2 C438.3,690.8 440.3,690.9 442.5,691.4 C444.7,691.9 445.3,692.7 447.0,693.6 C448.7,694.5 449.5,695.8 451.2,695.9 C452.9,696.0 453.7,694.6 455.5,694.0 C457.3,693.4 458.1,692.9 460.0,692.8 C461.9,692.7 463.0,693.0 465.0,693.7 C467.0,694.4 468.4,695.7 470.0,696.2 C471.6,696.7 471.8,698.4 473.0,696.4 C474.2,694.4 474.8,690.0 476.2,686.2 C477.6,682.4 478.2,680.8 480.0,677.5 C481.8,674.2 483.0,672.5 485.0,669.5 C487.0,666.5 488.0,665.0 490.0,662.5 C492.0,660.0 493.0,659.0 495.0,657.0 C497.0,655.0 497.5,655.2 500.0,652.5 C502.5,649.8 504.5,646.6 507.5,643.7 C510.5,640.8 511.5,639.7 515.0,638.2 C518.5,636.7 520.5,637.8 525.0,636.2 C529.5,634.6 533.0,631.6 537.5,630.0 C542.0,628.4 544.0,628.8 547.5,628.0 C551.0,627.2 551.5,627.1 555.0,626.2 C558.5,625.3 561.0,624.3 565.0,623.7 C569.0,623.1 571.3,624.0 575.0,623.0 C578.7,622.0 580.6,620.5 583.7,618.7 C586.8,616.9 587.9,613.9 590.7,614.2 C593.5,614.5 594.6,618.2 597.5,620.0 C600.4,621.8 601.5,622.3 605.0,623.0 C608.5,623.7 611.5,622.6 615.0,623.7 C618.5,624.8 619.8,626.2 622.5,628.7 C625.2,631.2 626.5,634.1 628.5,636.4 C630.5,638.7 630.2,639.1 632.5,640.0 C634.8,640.9 636.6,639.5 639.8,640.8 C643.0,642.1 643.2,644.0 648.3,646.6 C653.4,649.2 658.5,650.9 665.3,653.7 C672.1,656.5 677.8,658.3 682.3,660.8 C686.8,663.3 686.0,664.0 688.0,666.4 C690.0,668.8 686.5,671.3 692.2,672.7 C697.9,674.1 710.4,674.2 716.3,673.5 C722.2,672.8 719.4,672.4 721.9,669.3 C724.4,666.2 726.4,662.3 729.0,658.0 C731.6,653.7 732.4,650.8 734.7,648.0 C737.0,645.2 738.3,645.3 740.3,643.8 C742.3,642.3 742.9,640.4 744.6,640.4 C746.3,640.4 746.8,641.4 748.8,643.8 C750.8,646.2 751.9,649.9 754.5,652.3 C757.1,654.7 759.1,654.6 761.6,655.7 C764.1,656.8 764.4,656.3 767.2,658.0 C770.0,659.7 772.3,662.8 775.7,664.2 C779.1,665.6 781.1,663.7 784.2,665.0 C787.3,666.3 788.7,670.1 791.3,670.7 C793.9,671.3 794.7,669.0 797.0,667.9 C799.3,666.8 800.3,666.9 802.6,665.0 C804.9,663.1 806.0,659.3 808.3,658.5 C810.6,657.7 811.6,659.7 813.9,660.8 C816.2,661.9 816.5,663.5 819.6,664.2 C822.7,664.9 825.8,663.5 829.5,664.2 C833.2,664.9 834.9,666.6 838.0,667.9 C841.1,669.2 842.6,668.7 845.1,670.7 C847.6,672.7 848.4,674.4 850.7,677.8 C853.0,681.2 854.1,683.7 856.4,687.7 C858.7,691.7 860.1,696.5 862.1,697.6 C864.1,698.7 864.3,693.8 866.3,693.3 C868.3,692.8 869.7,695.1 872.0,695.3 C874.3,695.5 875.1,693.6 877.6,694.2 C880.1,694.8 881.6,698.5 884.7,698.2 C887.8,697.9 890.4,693.5 893.2,692.5 C896.0,691.5 896.3,692.2 898.9,693.3 C901.5,694.4 902.9,698.0 906.0,698.2 C909.1,698.4 911.6,694.3 914.4,694.2 C917.2,694.1 917.8,695.9 920.1,697.6 C922.4,699.3 923.0,701.9 925.8,702.7 C928.6,703.5 931.0,702.3 934.3,701.8 C937.6,701.3 940.8,700.7 942.4,700.4 L942.4,705.8 L393.5,705.8 Z" fill="url(#ga)"/>
<path d="M393.5,699.2 C395.3,699.2 399.8,699.5 402.5,699.3 C405.2,699.1 405.0,698.8 407.0,698.2 C409.0,697.6 410.5,697.0 412.5,696.2 C414.5,695.4 415.4,695.0 417.0,694.2 C418.6,693.4 419.2,692.0 420.5,692.4 C421.8,692.8 422.3,695.2 423.7,696.0 C425.1,696.8 425.8,696.9 427.5,696.4 C429.2,695.9 430.3,694.4 432.0,693.4 C433.7,692.4 434.1,691.6 436.2,691.2 C438.3,690.8 440.3,690.9 442.5,691.4 C444.7,691.9 445.3,692.7 447.0,693.6 C448.7,694.5 449.5,695.8 451.2,695.9 C452.9,696.0 453.7,694.6 455.5,694.0 C457.3,693.4 458.1,692.9 460.0,692.8 C461.9,692.7 463.0,693.0 465.0,693.7 C467.0,694.4 468.4,695.7 470.0,696.2 C471.6,696.7 471.8,698.4 473.0,696.4 C474.2,694.4 474.8,690.0 476.2,686.2 C477.6,682.4 478.2,680.8 480.0,677.5 C481.8,674.2 483.0,672.5 485.0,669.5 C487.0,666.5 488.0,665.0 490.0,662.5 C492.0,660.0 493.0,659.0 495.0,657.0 C497.0,655.0 497.5,655.2 500.0,652.5 C502.5,649.8 504.5,646.6 507.5,643.7 C510.5,640.8 511.5,639.7 515.0,638.2 C518.5,636.7 520.5,637.8 525.0,636.2 C529.5,634.6 533.0,631.6 537.5,630.0 C542.0,628.4 544.0,628.8 547.5,628.0 C551.0,627.2 551.5,627.1 555.0,626.2 C558.5,625.3 561.0,624.3 565.0,623.7 C569.0,623.1 571.3,624.0 575.0,623.0 C578.7,622.0 580.6,620.5 583.7,618.7 C586.8,616.9 587.9,613.9 590.7,614.2 C593.5,614.5 594.6,618.2 597.5,620.0 C600.4,621.8 601.5,622.3 605.0,623.0 C608.5,623.7 611.5,622.6 615.0,623.7 C618.5,624.8 619.8,626.2 622.5,628.7 C625.2,631.2 626.5,634.1 628.5,636.4 C630.5,638.7 630.2,639.1 632.5,640.0 C634.8,640.9 636.6,639.5 639.8,640.8 C643.0,642.1 643.2,644.0 648.3,646.6 C653.4,649.2 658.5,650.9 665.3,653.7 C672.1,656.5 677.8,658.3 682.3,660.8 C686.8,663.3 686.0,664.0 688.0,666.4 C690.0,668.8 686.5,671.3 692.2,672.7 C697.9,674.1 710.4,674.2 716.3,673.5 C722.2,672.8 719.4,672.4 721.9,669.3 C724.4,666.2 726.4,662.3 729.0,658.0 C731.6,653.7 732.4,650.8 734.7,648.0 C737.0,645.2 738.3,645.3 740.3,643.8 C742.3,642.3 742.9,640.4 744.6,640.4 C746.3,640.4 746.8,641.4 748.8,643.8 C750.8,646.2 751.9,649.9 754.5,652.3 C757.1,654.7 759.1,654.6 761.6,655.7 C764.1,656.8 764.4,656.3 767.2,658.0 C770.0,659.7 772.3,662.8 775.7,664.2 C779.1,665.6 781.1,663.7 784.2,665.0 C787.3,666.3 788.7,670.1 791.3,670.7 C793.9,671.3 794.7,669.0 797.0,667.9 C799.3,666.8 800.3,666.9 802.6,665.0 C804.9,663.1 806.0,659.3 808.3,658.5 C810.6,657.7 811.6,659.7 813.9,660.8 C816.2,661.9 816.5,663.5 819.6,664.2 C822.7,664.9 825.8,663.5 829.5,664.2 C833.2,664.9 834.9,666.6 838.0,667.9 C841.1,669.2 842.6,668.7 845.1,670.7 C847.6,672.7 848.4,674.4 850.7,677.8 C853.0,681.2 854.1,683.7 856.4,687.7 C858.7,691.7 860.1,696.5 862.1,697.6 C864.1,698.7 864.3,693.8 866.3,693.3 C868.3,692.8 869.7,695.1 872.0,695.3 C874.3,695.5 875.1,693.6 877.6,694.2 C880.1,694.8 881.6,698.5 884.7,698.2 C887.8,697.9 890.4,693.5 893.2,692.5 C896.0,691.5 896.3,692.2 898.9,693.3 C901.5,694.4 902.9,698.0 906.0,698.2 C909.1,698.4 911.6,694.3 914.4,694.2 C917.2,694.1 917.8,695.9 920.1,697.6 C922.4,699.3 923.0,701.9 925.8,702.7 C928.6,703.5 931.0,702.3 934.3,701.8 C937.6,701.3 940.8,700.7 942.4,700.4 L942.4,705.8 L393.5,705.8 Z" fill="url(#gav)"/>
<clipPath id="carea"><path d="M393.5,699.2 C395.3,699.2 399.8,699.5 402.5,699.3 C405.2,699.1 405.0,698.8 407.0,698.2 C409.0,697.6 410.5,697.0 412.5,696.2 C414.5,695.4 415.4,695.0 417.0,694.2 C418.6,693.4 419.2,692.0 420.5,692.4 C421.8,692.8 422.3,695.2 423.7,696.0 C425.1,696.8 425.8,696.9 427.5,696.4 C429.2,695.9 430.3,694.4 432.0,693.4 C433.7,692.4 434.1,691.6 436.2,691.2 C438.3,690.8 440.3,690.9 442.5,691.4 C444.7,691.9 445.3,692.7 447.0,693.6 C448.7,694.5 449.5,695.8 451.2,695.9 C452.9,696.0 453.7,694.6 455.5,694.0 C457.3,693.4 458.1,692.9 460.0,692.8 C461.9,692.7 463.0,693.0 465.0,693.7 C467.0,694.4 468.4,695.7 470.0,696.2 C471.6,696.7 471.8,698.4 473.0,696.4 C474.2,694.4 474.8,690.0 476.2,686.2 C477.6,682.4 478.2,680.8 480.0,677.5 C481.8,674.2 483.0,672.5 485.0,669.5 C487.0,666.5 488.0,665.0 490.0,662.5 C492.0,660.0 493.0,659.0 495.0,657.0 C497.0,655.0 497.5,655.2 500.0,652.5 C502.5,649.8 504.5,646.6 507.5,643.7 C510.5,640.8 511.5,639.7 515.0,638.2 C518.5,636.7 520.5,637.8 525.0,636.2 C529.5,634.6 533.0,631.6 537.5,630.0 C542.0,628.4 544.0,628.8 547.5,628.0 C551.0,627.2 551.5,627.1 555.0,626.2 C558.5,625.3 561.0,624.3 565.0,623.7 C569.0,623.1 571.3,624.0 575.0,623.0 C578.7,622.0 580.6,620.5 583.7,618.7 C586.8,616.9 587.9,613.9 590.7,614.2 C593.5,614.5 594.6,618.2 597.5,620.0 C600.4,621.8 601.5,622.3 605.0,623.0 C608.5,623.7 611.5,622.6 615.0,623.7 C618.5,624.8 619.8,626.2 622.5,628.7 C625.2,631.2 626.5,634.1 628.5,636.4 C630.5,638.7 630.2,639.1 632.5,640.0 C634.8,640.9 636.6,639.5 639.8,640.8 C643.0,642.1 643.2,644.0 648.3,646.6 C653.4,649.2 658.5,650.9 665.3,653.7 C672.1,656.5 677.8,658.3 682.3,660.8 C686.8,663.3 686.0,664.0 688.0,666.4 C690.0,668.8 686.5,671.3 692.2,672.7 C697.9,674.1 710.4,674.2 716.3,673.5 C722.2,672.8 719.4,672.4 721.9,669.3 C724.4,666.2 726.4,662.3 729.0,658.0 C731.6,653.7 732.4,650.8 734.7,648.0 C737.0,645.2 738.3,645.3 740.3,643.8 C742.3,642.3 742.9,640.4 744.6,640.4 C746.3,640.4 746.8,641.4 748.8,643.8 C750.8,646.2 751.9,649.9 754.5,652.3 C757.1,654.7 759.1,654.6 761.6,655.7 C764.1,656.8 764.4,656.3 767.2,658.0 C770.0,659.7 772.3,662.8 775.7,664.2 C779.1,665.6 781.1,663.7 784.2,665.0 C787.3,666.3 788.7,670.1 791.3,670.7 C793.9,671.3 794.7,669.0 797.0,667.9 C799.3,666.8 800.3,666.9 802.6,665.0 C804.9,663.1 806.0,659.3 808.3,658.5 C810.6,657.7 811.6,659.7 813.9,660.8 C816.2,661.9 816.5,663.5 819.6,664.2 C822.7,664.9 825.8,663.5 829.5,664.2 C833.2,664.9 834.9,666.6 838.0,667.9 C841.1,669.2 842.6,668.7 845.1,670.7 C847.6,672.7 848.4,674.4 850.7,677.8 C853.0,681.2 854.1,683.7 856.4,687.7 C858.7,691.7 860.1,696.5 862.1,697.6 C864.1,698.7 864.3,693.8 866.3,693.3 C868.3,692.8 869.7,695.1 872.0,695.3 C874.3,695.5 875.1,693.6 877.6,694.2 C880.1,694.8 881.6,698.5 884.7,698.2 C887.8,697.9 890.4,693.5 893.2,692.5 C896.0,691.5 896.3,692.2 898.9,693.3 C901.5,694.4 902.9,698.0 906.0,698.2 C909.1,698.4 911.6,694.3 914.4,694.2 C917.2,694.1 917.8,695.9 920.1,697.6 C922.4,699.3 923.0,701.9 925.8,702.7 C928.6,703.5 931.0,702.3 934.3,701.8 C937.6,701.3 940.8,700.7 942.4,700.4 L942.4,705.8 L393.5,705.8 Z"/></clipPath>
<g clip-path="url(#carea)">
<line x1="394.8" y1="611.9" x2="942.4" y2="611.9" stroke="#b4dcf2" stroke-opacity="0.42" stroke-width="1.4" stroke-dasharray="2.4 2.1"/>
<line x1="394.8" y1="628.3" x2="942.4" y2="628.3" stroke="#b4dcf2" stroke-opacity="0.42" stroke-width="1.4" stroke-dasharray="2.4 2.1"/>
<line x1="394.8" y1="644.8" x2="942.4" y2="644.8" stroke="#b4dcf2" stroke-opacity="0.42" stroke-width="1.4" stroke-dasharray="2.4 2.1"/>
<line x1="394.8" y1="661.5" x2="942.4" y2="661.5" stroke="#b4dcf2" stroke-opacity="0.42" stroke-width="1.4" stroke-dasharray="2.4 2.1"/>
<line x1="394.8" y1="678.4" x2="942.4" y2="678.4" stroke="#b4dcf2" stroke-opacity="0.42" stroke-width="1.4" stroke-dasharray="2.4 2.1"/>
<line x1="394.8" y1="695.4" x2="942.4" y2="695.4" stroke="#b4dcf2" stroke-opacity="0.42" stroke-width="1.4" stroke-dasharray="2.4 2.1"/>
<line x1="446.5" y1="608.6" x2="446.5" y2="705.8" stroke="#7cc0ee" stroke-opacity="0.55" stroke-width="1.6" stroke-dasharray="2.4 2.1"/>
<line x1="499.7" y1="608.6" x2="499.7" y2="705.8" stroke="#7cc0ee" stroke-opacity="0.55" stroke-width="1.6" stroke-dasharray="2.4 2.1"/>
<line x1="552.9" y1="608.6" x2="552.9" y2="705.8" stroke="#7cc0ee" stroke-opacity="0.55" stroke-width="1.6" stroke-dasharray="2.4 2.1"/>
<line x1="606.1" y1="608.6" x2="606.1" y2="705.8" stroke="#7cc0ee" stroke-opacity="0.55" stroke-width="1.6" stroke-dasharray="2.4 2.1"/>
<line x1="659.3" y1="608.6" x2="659.3" y2="705.8" stroke="#7cc0ee" stroke-opacity="0.55" stroke-width="1.6" stroke-dasharray="2.4 2.1"/>
<line x1="712.5" y1="608.6" x2="712.5" y2="705.8" stroke="#7cc0ee" stroke-opacity="0.55" stroke-width="1.6" stroke-dasharray="2.4 2.1"/>
<line x1="765.7" y1="608.6" x2="765.7" y2="705.8" stroke="#7cc0ee" stroke-opacity="0.55" stroke-width="1.6" stroke-dasharray="2.4 2.1"/>
<line x1="818.9" y1="608.6" x2="818.9" y2="705.8" stroke="#7cc0ee" stroke-opacity="0.55" stroke-width="1.6" stroke-dasharray="2.4 2.1"/>
<line x1="872.1" y1="608.6" x2="872.1" y2="705.8" stroke="#7cc0ee" stroke-opacity="0.55" stroke-width="1.6" stroke-dasharray="2.4 2.1"/>
<line x1="925.3" y1="608.6" x2="925.3" y2="705.8" stroke="#7cc0ee" stroke-opacity="0.55" stroke-width="1.6" stroke-dasharray="2.4 2.1"/>
</g>
<path d="M393.5,699.2 C395.3,699.2 399.8,699.5 402.5,699.3 C405.2,699.1 405.0,698.8 407.0,698.2 C409.0,697.6 410.5,697.0 412.5,696.2 C414.5,695.4 415.4,695.0 417.0,694.2 C418.6,693.4 419.2,692.0 420.5,692.4 C421.8,692.8 422.3,695.2 423.7,696.0 C425.1,696.8 425.8,696.9 427.5,696.4 C429.2,695.9 430.3,694.4 432.0,693.4 C433.7,692.4 434.1,691.6 436.2,691.2 C438.3,690.8 440.3,690.9 442.5,691.4 C444.7,691.9 445.3,692.7 447.0,693.6 C448.7,694.5 449.5,695.8 451.2,695.9 C452.9,696.0 453.7,694.6 455.5,694.0 C457.3,693.4 458.1,692.9 460.0,692.8 C461.9,692.7 463.0,693.0 465.0,693.7 C467.0,694.4 468.4,695.7 470.0,696.2 C471.6,696.7 471.8,698.4 473.0,696.4 C474.2,694.4 474.8,690.0 476.2,686.2 C477.6,682.4 478.2,680.8 480.0,677.5 C481.8,674.2 483.0,672.5 485.0,669.5 C487.0,666.5 488.0,665.0 490.0,662.5 C492.0,660.0 493.0,659.0 495.0,657.0 C497.0,655.0 497.5,655.2 500.0,652.5 C502.5,649.8 504.5,646.6 507.5,643.7 C510.5,640.8 511.5,639.7 515.0,638.2 C518.5,636.7 520.5,637.8 525.0,636.2 C529.5,634.6 533.0,631.6 537.5,630.0 C542.0,628.4 544.0,628.8 547.5,628.0 C551.0,627.2 551.5,627.1 555.0,626.2 C558.5,625.3 561.0,624.3 565.0,623.7 C569.0,623.1 571.3,624.0 575.0,623.0 C578.7,622.0 580.6,620.5 583.7,618.7 C586.8,616.9 587.9,613.9 590.7,614.2 C593.5,614.5 594.6,618.2 597.5,620.0 C600.4,621.8 601.5,622.3 605.0,623.0 C608.5,623.7 611.5,622.6 615.0,623.7 C618.5,624.8 619.8,626.2 622.5,628.7 C625.2,631.2 626.5,634.1 628.5,636.4 C630.5,638.7 630.2,639.1 632.5,640.0 C634.8,640.9 636.6,639.5 639.8,640.8 C643.0,642.1 643.2,644.0 648.3,646.6 C653.4,649.2 658.5,650.9 665.3,653.7 C672.1,656.5 677.8,658.3 682.3,660.8 C686.8,663.3 686.0,664.0 688.0,666.4 C690.0,668.8 686.5,671.3 692.2,672.7 C697.9,674.1 710.4,674.2 716.3,673.5 C722.2,672.8 719.4,672.4 721.9,669.3 C724.4,666.2 726.4,662.3 729.0,658.0 C731.6,653.7 732.4,650.8 734.7,648.0 C737.0,645.2 738.3,645.3 740.3,643.8 C742.3,642.3 742.9,640.4 744.6,640.4 C746.3,640.4 746.8,641.4 748.8,643.8 C750.8,646.2 751.9,649.9 754.5,652.3 C757.1,654.7 759.1,654.6 761.6,655.7 C764.1,656.8 764.4,656.3 767.2,658.0 C770.0,659.7 772.3,662.8 775.7,664.2 C779.1,665.6 781.1,663.7 784.2,665.0 C787.3,666.3 788.7,670.1 791.3,670.7 C793.9,671.3 794.7,669.0 797.0,667.9 C799.3,666.8 800.3,666.9 802.6,665.0 C804.9,663.1 806.0,659.3 808.3,658.5 C810.6,657.7 811.6,659.7 813.9,660.8 C816.2,661.9 816.5,663.5 819.6,664.2 C822.7,664.9 825.8,663.5 829.5,664.2 C833.2,664.9 834.9,666.6 838.0,667.9 C841.1,669.2 842.6,668.7 845.1,670.7 C847.6,672.7 848.4,674.4 850.7,677.8 C853.0,681.2 854.1,683.7 856.4,687.7 C858.7,691.7 860.1,696.5 862.1,697.6 C864.1,698.7 864.3,693.8 866.3,693.3 C868.3,692.8 869.7,695.1 872.0,695.3 C874.3,695.5 875.1,693.6 877.6,694.2 C880.1,694.8 881.6,698.5 884.7,698.2 C887.8,697.9 890.4,693.5 893.2,692.5 C896.0,691.5 896.3,692.2 898.9,693.3 C901.5,694.4 902.9,698.0 906.0,698.2 C909.1,698.4 911.6,694.3 914.4,694.2 C917.2,694.1 917.8,695.9 920.1,697.6 C922.4,699.3 923.0,701.9 925.8,702.7 C928.6,703.5 931.0,702.3 934.3,701.8 C937.6,701.3 940.8,700.7 942.4,700.4" fill="none" stroke="#58c8ee" stroke-width="4" stroke-opacity="0.75" filter="url(#glow2)"/>
<path d="M393.5,699.2 C395.3,699.2 399.8,699.5 402.5,699.3 C405.2,699.1 405.0,698.8 407.0,698.2 C409.0,697.6 410.5,697.0 412.5,696.2 C414.5,695.4 415.4,695.0 417.0,694.2 C418.6,693.4 419.2,692.0 420.5,692.4 C421.8,692.8 422.3,695.2 423.7,696.0 C425.1,696.8 425.8,696.9 427.5,696.4 C429.2,695.9 430.3,694.4 432.0,693.4 C433.7,692.4 434.1,691.6 436.2,691.2 C438.3,690.8 440.3,690.9 442.5,691.4 C444.7,691.9 445.3,692.7 447.0,693.6 C448.7,694.5 449.5,695.8 451.2,695.9 C452.9,696.0 453.7,694.6 455.5,694.0 C457.3,693.4 458.1,692.9 460.0,692.8 C461.9,692.7 463.0,693.0 465.0,693.7 C467.0,694.4 468.4,695.7 470.0,696.2 C471.6,696.7 471.8,698.4 473.0,696.4 C474.2,694.4 474.8,690.0 476.2,686.2 C477.6,682.4 478.2,680.8 480.0,677.5 C481.8,674.2 483.0,672.5 485.0,669.5 C487.0,666.5 488.0,665.0 490.0,662.5 C492.0,660.0 493.0,659.0 495.0,657.0 C497.0,655.0 497.5,655.2 500.0,652.5 C502.5,649.8 504.5,646.6 507.5,643.7 C510.5,640.8 511.5,639.7 515.0,638.2 C518.5,636.7 520.5,637.8 525.0,636.2 C529.5,634.6 533.0,631.6 537.5,630.0 C542.0,628.4 544.0,628.8 547.5,628.0 C551.0,627.2 551.5,627.1 555.0,626.2 C558.5,625.3 561.0,624.3 565.0,623.7 C569.0,623.1 571.3,624.0 575.0,623.0 C578.7,622.0 580.6,620.5 583.7,618.7 C586.8,616.9 587.9,613.9 590.7,614.2 C593.5,614.5 594.6,618.2 597.5,620.0 C600.4,621.8 601.5,622.3 605.0,623.0 C608.5,623.7 611.5,622.6 615.0,623.7 C618.5,624.8 619.8,626.2 622.5,628.7 C625.2,631.2 626.5,634.1 628.5,636.4 C630.5,638.7 630.2,639.1 632.5,640.0 C634.8,640.9 636.6,639.5 639.8,640.8 C643.0,642.1 643.2,644.0 648.3,646.6 C653.4,649.2 658.5,650.9 665.3,653.7 C672.1,656.5 677.8,658.3 682.3,660.8 C686.8,663.3 686.0,664.0 688.0,666.4 C690.0,668.8 686.5,671.3 692.2,672.7 C697.9,674.1 710.4,674.2 716.3,673.5 C722.2,672.8 719.4,672.4 721.9,669.3 C724.4,666.2 726.4,662.3 729.0,658.0 C731.6,653.7 732.4,650.8 734.7,648.0 C737.0,645.2 738.3,645.3 740.3,643.8 C742.3,642.3 742.9,640.4 744.6,640.4 C746.3,640.4 746.8,641.4 748.8,643.8 C750.8,646.2 751.9,649.9 754.5,652.3 C757.1,654.7 759.1,654.6 761.6,655.7 C764.1,656.8 764.4,656.3 767.2,658.0 C770.0,659.7 772.3,662.8 775.7,664.2 C779.1,665.6 781.1,663.7 784.2,665.0 C787.3,666.3 788.7,670.1 791.3,670.7 C793.9,671.3 794.7,669.0 797.0,667.9 C799.3,666.8 800.3,666.9 802.6,665.0 C804.9,663.1 806.0,659.3 808.3,658.5 C810.6,657.7 811.6,659.7 813.9,660.8 C816.2,661.9 816.5,663.5 819.6,664.2 C822.7,664.9 825.8,663.5 829.5,664.2 C833.2,664.9 834.9,666.6 838.0,667.9 C841.1,669.2 842.6,668.7 845.1,670.7 C847.6,672.7 848.4,674.4 850.7,677.8 C853.0,681.2 854.1,683.7 856.4,687.7 C858.7,691.7 860.1,696.5 862.1,697.6 C864.1,698.7 864.3,693.8 866.3,693.3 C868.3,692.8 869.7,695.1 872.0,695.3 C874.3,695.5 875.1,693.6 877.6,694.2 C880.1,694.8 881.6,698.5 884.7,698.2 C887.8,697.9 890.4,693.5 893.2,692.5 C896.0,691.5 896.3,692.2 898.9,693.3 C901.5,694.4 902.9,698.0 906.0,698.2 C909.1,698.4 911.6,694.3 914.4,694.2 C917.2,694.1 917.8,695.9 920.1,697.6 C922.4,699.3 923.0,701.9 925.8,702.7 C928.6,703.5 931.0,702.3 934.3,701.8 C937.6,701.3 940.8,700.7 942.4,700.4" fill="none" stroke="#6ccae8" stroke-width="1.9" stroke-opacity="0.9" stroke-linejoin="round"/>
<path d="M388.4,607.6 H393.3 V706.1999999999999 H942.6 V711.6" fill="none" stroke="#6399ae" stroke-width="1.1"/>
<line x1="393.3" y1="706.1999999999999" x2="393.3" y2="711.6" stroke="#6fb2d4" stroke-width="1.1"/>
<line x1="388.6" y1="706.3" x2="942.6" y2="706.3" stroke="#4a8ac0" stroke-width="1.5"/>
<text x="354.3" y="612.3" font-size="9.2" font-weight="bold" fill="#fff" text-anchor="start" textLength="33.0" lengthAdjust="spacingAndGlyphs" stroke="#fff" stroke-width="0.28">1.200 m</text>
<text x="353.1" y="629.0" font-size="9.2" font-weight="bold" fill="#fff" text-anchor="start" textLength="34.2" lengthAdjust="spacingAndGlyphs" stroke="#fff" stroke-width="0.28">1.000 m</text>
<text x="360.1" y="646.0" font-size="9.2" font-weight="bold" fill="#fff" text-anchor="start" textLength="27.2" lengthAdjust="spacingAndGlyphs" stroke="#fff" stroke-width="0.28">800 m</text>
<text x="360.1" y="662.8" font-size="9.2" font-weight="bold" fill="#fff" text-anchor="start" textLength="27.2" lengthAdjust="spacingAndGlyphs" stroke="#fff" stroke-width="0.28">600 m</text>
<text x="360.1" y="680.4" font-size="9.2" font-weight="bold" fill="#fff" text-anchor="start" textLength="27.2" lengthAdjust="spacingAndGlyphs" stroke="#fff" stroke-width="0.28">400 m</text>
<text x="361.0" y="697.8" font-size="9.2" font-weight="bold" fill="#fff" text-anchor="start" textLength="26.3" lengthAdjust="spacingAndGlyphs" stroke="#fff" stroke-width="0.28">200 m</text>
<text x="379.4" y="719.6" font-size="9.2" font-weight="bold" fill="#fff" text-anchor="start" textLength="29.4" lengthAdjust="spacingAndGlyphs" stroke="#fff" stroke-width="0.28">0.0 km</text>
<text x="433.4" y="719.6" font-size="9.2" font-weight="bold" fill="#fff" text-anchor="start" textLength="27.4" lengthAdjust="spacingAndGlyphs" stroke="#fff" stroke-width="0.28">5.0 km</text>
<text x="484.6" y="719.6" font-size="9.2" font-weight="bold" fill="#fff" text-anchor="start" textLength="31.5" lengthAdjust="spacingAndGlyphs" stroke="#fff" stroke-width="0.28">10.0 km</text>
<text x="538.0" y="719.6" font-size="9.2" font-weight="bold" fill="#fff" text-anchor="start" textLength="32.9" lengthAdjust="spacingAndGlyphs" stroke="#fff" stroke-width="0.28">15.0 km</text>
<text x="586.9" y="719.6" font-size="9.2" font-weight="bold" fill="#fff" text-anchor="start" textLength="34.8" lengthAdjust="spacingAndGlyphs" stroke="#fff" stroke-width="0.28">20.0 km</text>
<text x="644.2" y="719.6" font-size="9.2" font-weight="bold" fill="#fff" text-anchor="start" textLength="32.4" lengthAdjust="spacingAndGlyphs" stroke="#fff" stroke-width="0.28">25.0 km</text>
<text x="694.0" y="719.6" font-size="9.2" font-weight="bold" fill="#fff" text-anchor="start" textLength="33.9" lengthAdjust="spacingAndGlyphs" stroke="#fff" stroke-width="0.28">30.0 km</text>
<text x="749.2" y="719.6" font-size="9.2" font-weight="bold" fill="#fff" text-anchor="start" textLength="33.8" lengthAdjust="spacingAndGlyphs" stroke="#fff" stroke-width="0.28">35.0 km</text>
<text x="801.4" y="719.6" font-size="9.2" font-weight="bold" fill="#fff" text-anchor="start" textLength="34.4" lengthAdjust="spacingAndGlyphs" stroke="#fff" stroke-width="0.28">40.0 km</text>
<text x="855.8" y="719.6" font-size="9.2" font-weight="bold" fill="#fff" text-anchor="start" textLength="34.0" lengthAdjust="spacingAndGlyphs" stroke="#fff" stroke-width="0.28">45.0 km</text>
<text x="907.2" y="719.6" font-size="9.2" font-weight="bold" fill="#fff" text-anchor="start" textLength="34.3" lengthAdjust="spacingAndGlyphs" stroke="#fff" stroke-width="0.28">50.0 km</text>
<line x1="410.5" y1="494.2" x2="410.5" y2="705.8" stroke="#fff" stroke-width="1.4"/>
<circle cx="410.5" cy="494.2" r="2.35" fill="#fff"/>
<text x="415.0" y="497.3" font-size="9.6" font-weight="normal" fill="#fff" text-anchor="start" textLength="47.0" lengthAdjust="spacingAndGlyphs">Oluk Köprü</text>
<line x1="425.5" y1="505.5" x2="425.5" y2="705.8" stroke="#fff" stroke-width="1.4"/>
<circle cx="425.5" cy="505.5" r="2.35" fill="#fff"/>
<text x="429.3" y="508.2" font-size="9.6" font-weight="normal" fill="#fff" text-anchor="start" textLength="52.6" lengthAdjust="spacingAndGlyphs">Taş Köprüler</text>
<line x1="470.3" y1="519.9" x2="470.3" y2="705.8" stroke="#fff" stroke-width="1.4"/>
<circle cx="470.3" cy="519.9" r="2.35" fill="#fff"/>
<text x="474.7" y="523.1" font-size="9.6" font-weight="normal" fill="#fff" text-anchor="start" textLength="39.5" lengthAdjust="spacingAndGlyphs">Yer Köprü</text>
<text x="517.2" y="523.1" font-size="9.6" font-weight="bold" fill="#fff" text-anchor="start" textLength="41.8" lengthAdjust="spacingAndGlyphs" stroke="#fff" stroke-width="0.28">1.İstasyon</text>
<line x1="554.5" y1="567.3" x2="554.5" y2="705.8" stroke="#fff" stroke-width="1.4"/>
<circle cx="554.5" cy="567.3" r="2.35" fill="#fff"/>
<text x="557.5" y="570.1" font-size="9.6" font-weight="normal" fill="#fff" text-anchor="start" textLength="89.5" lengthAdjust="spacingAndGlyphs">Selge Antik Tiyatrosu</text>
<text x="649.9" y="570.1" font-size="9.6" font-weight="bold" fill="#fff" text-anchor="start" textLength="43.0" lengthAdjust="spacingAndGlyphs" stroke="#fff" stroke-width="0.28">2.İstasyon</text>
<line x1="573.3" y1="584.6" x2="573.3" y2="705.8" stroke="#fff" stroke-width="1.4"/>
<circle cx="573.3" cy="584.6" r="2.35" fill="#fff"/>
<text x="577.1" y="587.2" font-size="9.6" font-weight="normal" fill="#fff" text-anchor="start" textLength="61.5" lengthAdjust="spacingAndGlyphs">Adam Kayalar</text>
<line x1="635.9" y1="597.0" x2="635.9" y2="705.8" stroke="#fff" stroke-width="1.4"/>
<circle cx="635.9" cy="597.0" r="2.35" fill="#fff"/>
<text x="641.3" y="600.1" font-size="9.6" font-weight="normal" fill="#fff" text-anchor="start" textLength="44.6" lengthAdjust="spacingAndGlyphs">Deli Sarnıç</text>
<text x="689.0" y="600.1" font-size="9.6" font-weight="bold" fill="#fff" text-anchor="start" textLength="43.3" lengthAdjust="spacingAndGlyphs" stroke="#fff" stroke-width="0.28">3.İstasyon</text>
<line x1="738.0" y1="513.9" x2="738.0" y2="705.8" stroke="#fff" stroke-width="1.4"/>
<circle cx="738.0" cy="513.9" r="2.35" fill="#fff"/>
<text x="743.4" y="517.8" font-size="9.6" font-weight="normal" fill="#fff" text-anchor="start" textLength="66.6" lengthAdjust="spacingAndGlyphs">Erdinç Pansiyon</text>
<text x="813.3" y="517.8" font-size="9.6" font-weight="bold" fill="#fff" text-anchor="start" textLength="42.7" lengthAdjust="spacingAndGlyphs" stroke="#fff" stroke-width="0.28">4.İstasyon</text>
<line x1="833.9" y1="543.0" x2="833.9" y2="705.8" stroke="#fff" stroke-width="1.4"/>
<circle cx="833.9" cy="543.0" r="2.35" fill="#fff"/>
<text x="838.2" y="546.5" font-size="9.6" font-weight="normal" fill="#fff" text-anchor="start" textLength="55.8" lengthAdjust="spacingAndGlyphs">Tazı Kanyonu</text>
<text x="897.1" y="546.5" font-size="9.6" font-weight="bold" fill="#fff" text-anchor="start" textLength="42.9" lengthAdjust="spacingAndGlyphs" stroke="#fff" stroke-width="0.28">5.İstasyon</text>
<line x1="871.8" y1="562.3" x2="871.8" y2="705.8" stroke="#fff" stroke-width="1.4"/>
<circle cx="871.8" cy="562.3" r="2.35" fill="#fff"/>
<text x="876.1" y="565.2" font-size="9.6" font-weight="normal" fill="#fff" text-anchor="start" textLength="39.6" lengthAdjust="spacingAndGlyphs">Yer Köprü</text>
<text x="918.8" y="565.2" font-size="9.6" font-weight="bold" fill="#fff" text-anchor="start" textLength="43.2" lengthAdjust="spacingAndGlyphs" stroke="#fff" stroke-width="0.28">6.İstasyon</text>
<line x1="912.4" y1="579.6" x2="912.4" y2="705.8" stroke="#fff" stroke-width="1.4"/>
<circle cx="912.4" cy="579.6" r="2.35" fill="#fff"/>
<text x="916.6" y="582.2" font-size="9.6" font-weight="normal" fill="#fff" text-anchor="start" textLength="50.9" lengthAdjust="spacingAndGlyphs">Taş Köprüler</text>
<g>
<clipPath id="ctop"><rect x="200" y="590" width="150" height="27.5"/></clipPath>
<clipPath id="cbot"><rect x="200" y="685.4" width="150" height="30"/></clipPath>
<circle cx="273.2" cy="652.3" r="52.8" fill="none" stroke="#fff" stroke-width="5.4" clip-path="url(#ctop)"/>
<circle cx="273.2" cy="652.0" r="52.4" fill="none" stroke="#fff" stroke-width="5.4" clip-path="url(#cbot)"/>
<path d="M250,606.4 L252.5,605.7 L260.8,605.3 L264.1,607 L264.6,609.7 L268.3,608.7 L278.3,611 L289.1,615.7 L283.3,610.7 L271.6,603.2 L268.3,601.6 L258,601.6 L250,603.6Z" fill="#fff"/>
<path d="M285,602.6 L290,604.6 L296.5,608.5 L298.6,612 L292,607.8 L286,605.2Z" fill="#fff"/>
<path fill-rule="evenodd" d="M239.2,685.4 L253.3,685.4 L258.3,688.3 L266.6,689.6 L276.6,688.7 L283.3,686.2 L293.3,685.4 L295.8,690.8 L288.3,695.4 L276.6,696.7 L268.3,697.9 L263.3,695.8 L256.6,694.2 L250,691.7 L243.3,688.3Z M265.4,693.3 C268,692.3 276,692.4 278.2,693.3 C276,694.3 268,694.3 265.4,693.3Z" fill="#fff"/>
<path d="M264,696.4 L270,698.9 L268,699.3 L262,697.2Z" fill="#fff"/>
</g>
<clipPath id="c1"><path d="M246.7,618 H271.4 V684 H256.2 V638.6 H246.7Z"/></clipPath>
<text x="203.59" y="677.6" font-size="76.7" font-weight="bold" fill="#fff" stroke="#fff" stroke-width="4.4" stroke-linejoin="miter" textLength="41.80" lengthAdjust="spacingAndGlyphs">5</text>
<text x="240.03" y="677.6" font-size="76.7" font-weight="bold" fill="#fff" stroke="#fff" stroke-width="4.4" stroke-linejoin="miter" textLength="43.78" lengthAdjust="spacingAndGlyphs" clip-path="url(#c1)">1</text>
<text x="289.64" y="677.6" font-size="76.7" font-weight="bold" fill="#fff" stroke="#fff" stroke-width="4.4" stroke-linejoin="miter" textLength="52.43" lengthAdjust="spacingAndGlyphs">K</text>
</svg></body></html>
